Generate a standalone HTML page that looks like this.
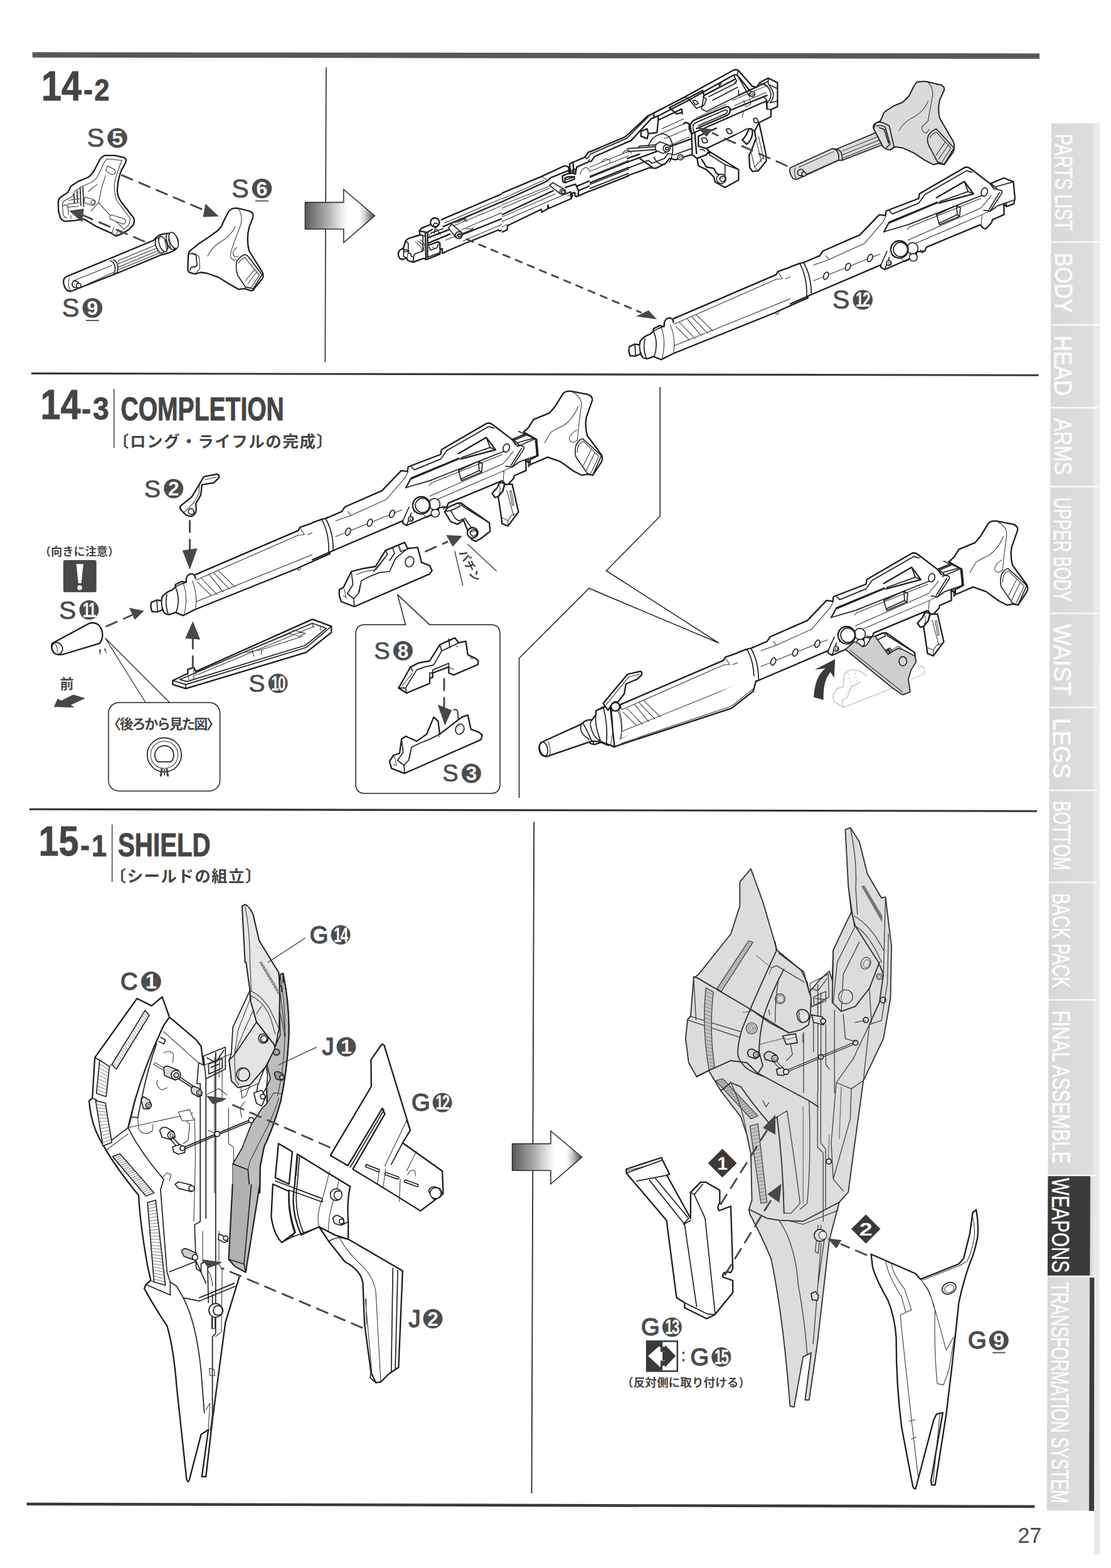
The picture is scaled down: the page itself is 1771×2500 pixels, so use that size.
<!DOCTYPE html>
<html><head><meta charset="utf-8"><title>page 27</title>
<style>html,body{margin:0;padding:0;background:#fff}svg{display:block}text{font-family:"Liberation Sans",sans-serif}</style>
</head><body>
<svg width="1771" height="2500" viewBox="0 0 1771 2500">
<rect width="1771" height="2500" fill="#fff"/>
<polygon points="51.7,83.2 1657,85.2 1657,93.8 51.7,91.8" fill="#585858"/>
<polygon points="50,593.85 1655.6,596.6500000000001 1655.6,599.75 50,596.9499999999999" fill="#3a3a3a"/>
<polygon points="47,1288.65 1653,1291.75 1653,1294.85 47,1291.75" fill="#333"/>
<polygon points="42.5,2395.8 1649.3,2399.8 1649.3,2404.2 42.5,2400.2" fill="#3a3a3a"/>
<line x1="519.9" y1="107.5" x2="518.3" y2="577.2" stroke="#333" stroke-width="1.7"/>
<line x1="851.2" y1="1310.6" x2="847.5" y2="2381" stroke="#333" stroke-width="1.9"/>
<text transform="translate(66,160.3) scale(0.86,1)" font-family="Liberation Sans, sans-serif" font-weight="bold" font-size="67" fill="#454545" text-anchor="start"  stroke="#454545" stroke-width="0.9">14</text>
<text transform="translate(133,160.3) scale(0.9,1)" font-family="Liberation Sans, sans-serif" font-weight="bold" font-size="50" fill="#454545" text-anchor="start"  stroke="#454545" stroke-width="0.9">-</text>
<text transform="translate(150.5,160.3) scale(0.9,1)" font-family="Liberation Sans, sans-serif" font-weight="bold" font-size="48" fill="#454545" text-anchor="start"  stroke="#454545" stroke-width="0.9">2</text>
<text transform="translate(64.5,668.3) scale(0.86,1)" font-family="Liberation Sans, sans-serif" font-weight="bold" font-size="67" fill="#454545" text-anchor="start"  stroke="#454545" stroke-width="0.9">14</text>
<text transform="translate(130,668.8) scale(0.9,1)" font-family="Liberation Sans, sans-serif" font-weight="bold" font-size="50" fill="#454545" text-anchor="start"  stroke="#454545" stroke-width="0.9">-</text>
<text transform="translate(148,668.8) scale(0.93,1)" font-family="Liberation Sans, sans-serif" font-weight="bold" font-size="50" fill="#454545" text-anchor="start"  stroke="#454545" stroke-width="0.9">3</text>
<line x1="181.8" y1="620" x2="181.8" y2="714" stroke="#444" stroke-width="1.5"/>
<text transform="translate(192.5,670.3) scale(0.766,1)" font-family="Liberation Sans, sans-serif" font-weight="bold" font-size="51" fill="#454545" text-anchor="start"  stroke="#454545" stroke-width="0.9">COMPLETION</text>
<text x="180" y="712.5" style="font-family:'Liberation Sans','Noto Sans CJK JP',sans-serif" font-weight="bold" font-size="25.5" fill="#454545" text-anchor="start" textLength="350" lengthAdjust="spacing">〔ロング・ライフルの完成〕</text>
<text transform="translate(61.5,1364) scale(0.86,1)" font-family="Liberation Sans, sans-serif" font-weight="bold" font-size="67" fill="#454545" text-anchor="start"  stroke="#454545" stroke-width="0.9">15</text>
<text transform="translate(128,1364.5) scale(0.9,1)" font-family="Liberation Sans, sans-serif" font-weight="bold" font-size="50" fill="#454545" text-anchor="start"  stroke="#454545" stroke-width="0.9">-</text>
<text transform="translate(146,1364.5) scale(0.9,1)" font-family="Liberation Sans, sans-serif" font-weight="bold" font-size="48" fill="#454545" text-anchor="start"  stroke="#454545" stroke-width="0.9">1</text>
<line x1="178.7" y1="1314.6" x2="178.7" y2="1406" stroke="#444" stroke-width="1.5"/>
<text transform="translate(188,1365) scale(0.79,1)" font-family="Liberation Sans, sans-serif" font-weight="bold" font-size="51" fill="#454545" text-anchor="start"  stroke="#454545" stroke-width="0.9">SHIELD</text>
<text x="175.5" y="1406" style="font-family:'Liberation Sans','Noto Sans CJK JP',sans-serif" font-weight="bold" font-size="25.5" fill="#454545" text-anchor="start" textLength="241" lengthAdjust="spacing">〔シールドの組立〕</text>
<text transform="translate(1622.5,2460) scale(0.97,1)" font-family="Liberation Sans, sans-serif" font-weight="normal" font-size="35" fill="#4a4a4a" text-anchor="start"  stroke="#4a4a4a" stroke-width="0">27</text>
<defs><linearGradient id="tabg" x1="0" x2="1" y1="0" y2="0"><stop offset="0" stop-color="#d8d8d8"/><stop offset="0.85" stop-color="#dedede"/><stop offset="0.88" stop-color="#e8e8e8"/><stop offset="1" stop-color="#ededed"/></linearGradient></defs>
<polygon points="1676,196.5 1754,196.5 1752.5,2037 1744,2037 1744,2408.5 1668.7,2408.5" fill="url(#tabg)"/>
<polygon points="1746,2037 1752.5,2037 1753.6,2478 1744,2478 1744,2408" fill="#e9e9e9"/>
<polygon points="1737.2,2037 1744.5,2037 1744,2409 1736.0,2409" fill="#3c3c3c"/>
<text transform="translate(1682.3,213.5) rotate(90)" font-family="Liberation Sans, sans-serif" font-size="39" fill="#fbfbfb" stroke="#fbfbfb" stroke-width="0.9" textLength="154" lengthAdjust="spacingAndGlyphs">PARTS LIST</text>
<line x1="1674.4" y1="386" x2="1753.4" y2="386" stroke="#fafafa" stroke-width="2.6"/>
<text transform="translate(1681.7,403) rotate(90)" font-family="Liberation Sans, sans-serif" font-size="39" fill="#fbfbfb" stroke="#fbfbfb" stroke-width="0.9" textLength="96" lengthAdjust="spacingAndGlyphs">BODY</text>
<line x1="1673.9" y1="518" x2="1752.9" y2="518" stroke="#fafafa" stroke-width="2.6"/>
<text transform="translate(1681.2,535) rotate(90)" font-family="Liberation Sans, sans-serif" font-size="39" fill="#fbfbfb" stroke="#fbfbfb" stroke-width="0.9" textLength="96" lengthAdjust="spacingAndGlyphs">HEAD</text>
<line x1="1673.5" y1="650" x2="1752.5" y2="650" stroke="#fafafa" stroke-width="2.6"/>
<text transform="translate(1680.8,667) rotate(90)" font-family="Liberation Sans, sans-serif" font-size="39" fill="#fbfbfb" stroke="#fbfbfb" stroke-width="0.9" textLength="90" lengthAdjust="spacingAndGlyphs">ARMS</text>
<line x1="1673.1" y1="776" x2="1752.1" y2="776" stroke="#fafafa" stroke-width="2.6"/>
<text transform="translate(1680.4,793) rotate(90)" font-family="Liberation Sans, sans-serif" font-size="39" fill="#fbfbfb" stroke="#fbfbfb" stroke-width="0.9" textLength="166" lengthAdjust="spacingAndGlyphs">UPPER BODY</text>
<line x1="1672.4" y1="978" x2="1751.4" y2="978" stroke="#fafafa" stroke-width="2.6"/>
<text transform="translate(1679.7,995) rotate(90)" font-family="Liberation Sans, sans-serif" font-size="39" fill="#fbfbfb" stroke="#fbfbfb" stroke-width="0.9" textLength="114" lengthAdjust="spacingAndGlyphs">WAIST</text>
<line x1="1671.9" y1="1128" x2="1750.9" y2="1128" stroke="#fafafa" stroke-width="2.6"/>
<text transform="translate(1679.2,1145) rotate(90)" font-family="Liberation Sans, sans-serif" font-size="39" fill="#fbfbfb" stroke="#fbfbfb" stroke-width="0.9" textLength="96" lengthAdjust="spacingAndGlyphs">LEGS</text>
<line x1="1671.5" y1="1260" x2="1750.5" y2="1260" stroke="#fafafa" stroke-width="2.6"/>
<text transform="translate(1678.8,1277) rotate(90)" font-family="Liberation Sans, sans-serif" font-size="39" fill="#fbfbfb" stroke="#fbfbfb" stroke-width="0.9" textLength="111" lengthAdjust="spacingAndGlyphs">BOTTOM</text>
<line x1="1671.0" y1="1407" x2="1750.0" y2="1407" stroke="#fafafa" stroke-width="2.6"/>
<text transform="translate(1678.3,1424) rotate(90)" font-family="Liberation Sans, sans-serif" font-size="39" fill="#fbfbfb" stroke="#fbfbfb" stroke-width="0.9" textLength="151" lengthAdjust="spacingAndGlyphs">BACK PACK</text>
<line x1="1670.4" y1="1594" x2="1749.4" y2="1594" stroke="#fafafa" stroke-width="2.6"/>
<text transform="translate(1677.7,1611) rotate(90)" font-family="Liberation Sans, sans-serif" font-size="39" fill="#fbfbfb" stroke="#fbfbfb" stroke-width="0.9" textLength="244" lengthAdjust="spacingAndGlyphs">FINAL ASSEMBLE</text>
<polygon points="1670.5,1874 1738.0,1874 1737.4,2035 1669.9,2035" fill="#3a3a3a"/>
<line x1="1669.5" y1="1874" x2="1748.5" y2="1874" stroke="#fafafa" stroke-width="2.6"/>
<text transform="translate(1676.8,1878) rotate(90)" font-family="Liberation Sans, sans-serif" font-size="39" fill="#ffffff" stroke="#ffffff" stroke-width="0.5" textLength="151" lengthAdjust="spacingAndGlyphs">WEAPONS</text>
<line x1="1668.9" y1="2035" x2="1747.9" y2="2035" stroke="#fafafa" stroke-width="2.6"/>
<text transform="translate(1676.2,2045) rotate(90)" font-family="Liberation Sans, sans-serif" font-size="39" fill="#fbfbfb" stroke="#fbfbfb" stroke-width="0.9" textLength="352" lengthAdjust="spacingAndGlyphs">TRANSFORMATION SYSTEM</text>
<!-- 05_defs.svg -->
<style>
.o{fill:none;stroke:#1c1c1c;stroke-width:2.3;stroke-linejoin:round;stroke-linecap:round;vector-effect:non-scaling-stroke}
.of{fill:#fff;stroke:#1c1c1c;stroke-width:2.3;stroke-linejoin:round;stroke-linecap:round;vector-effect:non-scaling-stroke}
.m{fill:none;stroke:#222;stroke-width:1.7;stroke-linejoin:round;stroke-linecap:round;vector-effect:non-scaling-stroke}
.mf{fill:#fff;stroke:#222;stroke-width:1.7;stroke-linejoin:round;stroke-linecap:round;vector-effect:non-scaling-stroke}
.t{fill:none;stroke:#333;stroke-width:1.05;stroke-linejoin:round;stroke-linecap:round;vector-effect:non-scaling-stroke}
.tf{fill:#fff;stroke:#333;stroke-width:1.05;stroke-linejoin:round;stroke-linecap:round;vector-effect:non-scaling-stroke}
.h{fill:none;stroke:#555;stroke-width:0.8;vector-effect:non-scaling-stroke}
.d{fill:none;stroke:#4a4a4a;stroke-width:2.9;stroke-dasharray:18 12;stroke-linecap:round;vector-effect:non-scaling-stroke}
.a{fill:#484848;stroke:none}
.g{fill:#cfcfcf}
.rs .o{stroke-width:1.8;stroke:#2e2e2e}.rs .m{stroke-width:1.25;stroke:#3a3a3a}.rs .t{stroke:#444;stroke-width:0.9}.rs .h{stroke:#666;stroke-width:0.7}
</style>

<!-- 08_bigarrow.svg -->
<defs><linearGradient id="ag" x1="0" x2="1" y1="0" y2="0"><stop offset="0" stop-color="#555"/><stop offset="0.06" stop-color="#6a6a6a"/><stop offset="0.3" stop-color="#a8a8a8"/><stop offset="0.5" stop-color="#e4e4e4"/><stop offset="0.6" stop-color="#fff"/><stop offset="0.78" stop-color="#fff"/><stop offset="0.86" stop-color="#ccc"/><stop offset="1" stop-color="#4a4a4a"/></linearGradient>
<path id="bigarrow" d="M0,-21.3 H61.3 V-41.8 L111,0 L61.3,42.9 V21.3 H0 Z" fill="url(#ag)" stroke="#333" stroke-width="1.6" stroke-linejoin="miter"/></defs>
<use href="#bigarrow" x="486.4" y="343.9"/>
<use href="#bigarrow" x="816.6" y="1844.9"/>

<!-- 10_f142_left.svg -->
<g transform="translate(60,100) scale(0.24631)">
<!-- S5 -->
<path class="of" d="M435,600 L500,600 L560,614 Q578,622 570,645 L540,700 Q518,760 515,830 Q518,870 540,900 L622,1005 Q630,1030 618,1052 L590,1080 L545,1108 L505,1122 L480,1105 L380,1060 L300,1012 L240,1022 L180,1027 Q152,1020 146,1000 L135,960 L133,905 Q135,880 152,868 L195,840 L215,800 L260,770 L330,740 Q355,720 370,690 L400,632 Q415,606 435,600 Z"/>
<path class="t" d="M450,622 L545,632 M450,622 Q430,640 415,680 L385,740 Q370,765 335,780 L285,802 L240,832 L225,865 L180,890 Q160,900 160,925 L165,980 Q170,1000 190,1005"/>
<path class="t" d="M545,632 Q520,690 500,760 Q490,830 510,890 L600,1010 L590,1050 L560,1075"/>
<path class="t" d="M440,730 Q420,790 410,830 Q400,880 395,905 Q440,960 520,1040 L560,1080"/>
<path class="t" d="M395,905 L345,960 M330,835 Q360,800 385,790"/>
<path class="tf" d="M452,668 L495,690 Q510,700 500,715 Q492,728 478,722 L440,700 Z"/>
<path class="tf" d="M305,870 L360,885 Q380,895 372,912 Q365,928 345,922 L300,905 Z"/><circle class="t" cx="358" cy="904" r="13"/>
<path class="tf" d="M478,985 L560,1010 Q575,1020 568,1035 Q560,1048 545,1042 L470,1012 Q462,995 478,985 Z"/>
<path class="m" d="M275,810 L280,925 M293,805 L298,930 M255,830 L258,900 M235,850 L238,910"/>
<path class="t" d="M200,890 L275,880 M195,915 L270,905 M190,935 L265,930 M160,930 Q175,915 195,925 L200,985 M215,990 L215,1010 M480,1105 L495,1060 M505,1122 L520,1085 L545,1108"/>
<!-- dashed arrow S5 -> S6 -->
<line class="d" x1="545" y1="728" x2="1085" y2="958"/>
<polygon class="a" points="1172,995 1086,912 1070,999"/>
<!-- dashed arrow S9 -> S5 -->
<line class="d" x1="690" y1="1157" x2="295" y2="988"/>
<polygon class="a" points="203,958 300,945 288,1032"/>
</g>
<g transform="translate(60,300) scale(0.24631)">
<!-- S9 rod -->
<path class="of" d="M188,572 L750,338 Q770,310 800,300 Q840,285 880,300 Q915,320 908,370 Q900,400 870,410 L830,425 L800,432 L520,548 L490,560 L215,668 Q190,668 178,645 Q160,610 172,585 Z"/>
<path class="t" d="M215,668 Q190,630 205,580 M230,600 L480,500 M250,655 L490,545 M520,470 L770,365 M520,490 L780,385 M520,530 L800,415 M515,515 L790,400"/>
<path class="m" d="M470,470 Q492,475 500,505 Q505,540 492,558 M490,465 Q512,470 518,500 Q522,530 512,550"/>
<ellipse class="mf" cx="790" cy="372" rx="24" ry="52" transform="rotate(-20 790 372)"/>
<ellipse class="mf" cx="812" cy="362" rx="24" ry="52" transform="rotate(-20 812 362)"/>
<ellipse class="mf" cx="862" cy="345" rx="26" ry="55" transform="rotate(-20 862 345)"/>
<ellipse class="mf" cx="880" cy="338" rx="26" ry="55" transform="rotate(-20 880 338)"/>
<path class="t" d="M835,335 L850,390 M845,330 L860,385 M822,340 L835,395"/>
<circle class="mf" cx="245" cy="622" r="22"/><circle class="mf" cx="265" cy="630" r="15"/>
<!-- S6 -->
<path class="of" d="M1255,135 Q1280,125 1310,133 L1375,150 Q1400,160 1393,190 L1368,255 Q1350,330 1368,405 L1455,545 Q1465,565 1455,585 L1402,650 Q1392,668 1375,662 L1340,650 L1300,655 L1240,620 L1170,577 L1100,552 L1055,545 L1020,556 L985,547 Q970,540 972,520 L975,432 Q978,408 995,398 L1040,362 L1100,322 L1165,275 Q1190,255 1200,222 L1228,165 Q1240,142 1255,135 Z"/>
<path class="t" d="M1300,135 Q1330,180 1315,235 Q1290,300 1265,370 Q1245,420 1250,450 Q1265,470 1285,465"/>
<path class="t" d="M1280,250 Q1240,320 1180,350 Q1130,380 1100,440"/>
<path class="t" d="M1290,385 Q1260,400 1265,430 Q1275,450 1300,440"/>
<path class="m" d="M985,425 Q1010,420 1025,435 L1032,500 Q1020,515 995,510 L985,530"/>
<path class="t" d="M1000,420 Q1035,425 1045,445 L1050,520 L1020,556"/>
<path class="m" d="M1288,475 Q1310,440 1340,430 Q1355,432 1365,445 L1452,560 L1395,650 L1345,640 L1295,565 Q1280,520 1288,475 Z"/>
<path class="t" d="M1300,485 Q1320,455 1340,448 L1435,565 L1385,640 M1420,540 L1360,620 M1405,525 L1345,600 M1340,650 L1345,640 M1395,650 L1402,650"/>
</g>

<!-- 19_f142_fills.svg -->
<g transform="matrix(0.24631,-0.004926,0,0.24631,620,291.7)"><path fill="#fff" stroke="none" d="M60,450 L100,425 L130,370 L200,345 L205,310 L265,285 L297,235 L345,242 L940,0 L1624,-280 L1624,-60 L1185,105 L765,300 L710,320 L500,398 L345,462 L240,500 L155,520 L75,500 Z"/></g>
<g transform="translate(860,180) scale(0.14778)"><path fill="#fff" stroke="none" d="M0,690 L268,578 L322,556 L368,532 L500,480 L540,422 L930,255 L1165,35 L1300,0 L1624,0 L1624,420 L1470,490 L1400,530 L1260,590 L1180,590 L420,890 L345,900 L100,985 L0,1040 Z"/></g>
<g transform="translate(1000,95) scale(0.19704)"><path fill="#fff" stroke="none" d="M164,458 L215,432 L470,300 L860,85 L898,88 L1010,215 L1045,225 L1072,185 L1140,150 L1215,187 L1215,380 L1162,405 L1162,462 L1065,510 L1120,760 L1125,820 L1060,900 L1012,905 L990,872 L985,775 L870,640 L670,740 L900,890 L900,975 L790,1035 L710,990 L700,950 L640,890 L575,860 L565,800 L520,770 L390,810 L340,800 L310,840 L230,880 L180,875 L0,940 L0,720 L194,478 Z"/></g>

<!-- 20_f142_frame_front.svg -->
<defs><clipPath id="clipF1"><rect x="0" y="0" width="800.5" height="700"/></clipPath></defs>
<g clip-path="url(#clipF1)"><g transform="matrix(0.24631,-0.004926,0,0.24631,620,291.7)">
<!-- white body fill -->
<path class="o" d="M330,262 L345,242 L940,0 M350,290 L1040,12 M470,345 L985,150 L990,172 L1030,155 L1030,130 L1185,72 L1185,102 L1200,96 L1200,62 L1215,57 L1225,95 L1500,-10"/>
<path class="o" d="M360,455 L500,398 L710,318 L716,326 L765,305 L765,285 L985,188 L1030,168 L1185,105 L1190,135 L1215,125 L1225,95"/>
<path class="t" d="M360,266 L960,22 M415,288 L1040,38 M480,262 L500,240 L440,265 M470,312 L1050,78 M505,335 L1000,137 M545,300 L520,325 M480,385 L990,178 M735,280 L740,300 L745,278"/>
</g></g>
<g transform="translate(620,330) scale(0.12315)">
<path fill="#fff" d="M120,620 L190,530 L250,410 L395,310 L420,275 L535,225 L690,170 L700,600 L500,675 L310,715 L170,680 Z"/>
<path class="o" d="M535,228 L420,275 L395,310 L400,360 L250,410 L215,440 L190,530 L165,545 Q122,560 120,620 Q135,682 175,680 L230,660 L240,690 L310,715 L450,665 L480,680 L500,675 L660,610 L665,545 L690,540 L690,600 L730,585"/>
<path class="o" d="M470,325 L478,668 M500,340 L500,655 M395,310 L490,330 L560,292 M500,400 L800,285 M505,470 L790,350 M500,500 L640,450 L660,470 L660,545"/>
<path class="m" d="M400,360 L470,378 M250,410 L420,360 L440,380 L440,570 L330,610 L320,650 L310,715 M190,530 L190,640 L230,660 M165,545 L250,560 L255,600 L280,600 L290,640 L320,650 M200,580 L260,570 M215,440 L250,470 L250,560 M520,520 L540,560 L620,530 L640,480 M500,650 L660,592 M600,255 L590,340 M615,290 L665,350 M540,340 L700,280"/>
<path class="t" d="M340,450 Q420,500 430,580 M370,440 Q450,480 455,560 M400,425 Q465,460 470,530 M520,350 L530,400 M560,520 L590,540 M240,600 L240,650"/>
<circle class="of" cx="595" cy="200" r="58"/><circle class="m" cx="605" cy="236" r="28"/>
<path class="mf" d="M770,270 L815,225 L940,330 L870,400 Z"/><circle class="mf" cx="905" cy="365" r="45"/><circle class="m" cx="912" cy="368" r="22" style="fill:#e0e0e0"/>
<path class="t" d="M850,210 L980,150 L1010,190 M730,430 L1050,300 M1000,280 L1120,290"/>
</g>
<g transform="translate(620,290) scale(0.24631)"><line class="d" style="stroke-dasharray:10.6 10.4" x1="505" y1="372" x2="1630" y2="845"/></g>

<!-- 21_f142_frame_mid.svg -->
<defs><clipPath id="clipF2"><rect x="939.5" y="0" width="400" height="700"/></clipPath></defs>
<g clip-path="url(#clipF2)"><g transform="translate(860,180) scale(0.14778)">
<path class="o" d="M0,690 L268,578 L322,598 L322,556 L368,532 L500,480 L540,422 L930,255 L1165,35 L1200,20"/>
<path class="o" d="M345,600 L345,645 M380,610 L410,590 L430,575 L560,520 L595,470 L990,297 L1205,62"/>
<path class="m" d="M372,560 L510,500 L548,445 L940,275 L1170,45 M322,598 L350,605 L380,590 L380,650"/>
<path class="o" d="M0,742 L250,640 L250,740 L280,760 L280,700 L330,680 L375,690 L375,650 L410,640"/>
<path class="o" d="M0,772 L105,735 M280,800 L960,525 M300,818 L390,782 L415,805 L960,589"/>
<path class="o" d="M0,1040 L90,1000 L100,985 L330,900 L345,870 L345,900 L385,905 L385,870 L410,860 L422,892 L960,679"/>
<path class="m" d="M0,900 L150,842 M0,930 L330,805 M0,1000 L330,872 M430,860 L960,652 M400,830 L960,606"/>
<path class="t" d="M0,715 L250,615 M30,700 L80,720 M410,640 L960,415 M440,670 L960,464 M440,615 Q450,590 490,590 Q530,595 540,635 M670,530 Q690,495 725,495 Q760,500 765,540 M895,440 Q915,400 950,400 Q985,405 990,440 M350,760 L960,511"/>
<path class="mf" d="M105,775 L150,752 L270,812 L240,870 Z"/><circle class="mf" cx="255" cy="848" r="30"/><circle class="t" cx="258" cy="850" r="12"/>
</g></g>

<!-- 21a_f142_frame_junction.svg -->
<defs><clipPath id="clipJ"><rect x="800" y="0" width="140" height="700"/></clipPath></defs>
<g clip-path="url(#clipJ)"><g transform="translate(800,240) scale(0.098522)">
<path fill="#fff" d="M-10,694 L640,420 L1010,248 L1095,215 L1340,110 L1440,0 L1500,75 L1500,620 L1235,735 L1127,777 L647,997 L107,1207 L-13,1327 L-60,1285 Z"/>
<path class="o" d="M-10,694 L640,420 L1010,248 L1080,262 L1090,380 M1095,215 L1100,250 L1110,370 M1095,215 L1150,190 L1340,110 L1400,30 L1440,0 M1150,190 L1160,300 L1160,375 L1190,380 L1210,270 L1250,250 L1400,185 L1450,100 L1500,75"/>
<path class="m" d="M1115,310 L1115,375 L1140,370 L1140,310 M1160,300 L1190,300 L1190,380 M1340,110 L1380,130 L1440,60"/>
<path class="o" d="M-10,835 L700,510 L740,490 L790,440 L1085,320"/>
<path class="t" d="M640,420 L720,470 L740,490 M-10,885 L760,580 M-10,940 L770,610 M-10,1080 L870,700 M-10,1155 L640,870 L1040,700 M-10,790 L680,480 M1265,390 Q1290,290 1360,275 Q1410,285 1415,330"/>
<path class="o" d="M980,410 L985,500 L1020,520 L1020,450 L1050,430 L1170,420 L1175,460 L1030,520 M980,410 L1085,365"/>
<path class="m" d="M1020,450 L1050,470 L1175,425"/>
<path class="o" d="M-10,1045 L830,650 M1030,598 L1190,545 L1210,580 L1500,455"/>
<path class="o" d="M1040,700 L1110,668 L1120,750 L1140,745 L1135,690 L1180,680 L1185,735 L1210,745 L1235,735 L1240,650 L1210,580 M1240,650 L1500,540 M1235,735 L1500,620"/>
<path class="o" d="M-60,1285 L-13,1327 L87,1282 L92,1222 L107,1207 L637,952 L647,997 L742,942 L747,882 L762,937 L1127,777 L1120,750"/>
<path class="t" d="M1060,735 L1110,715 M-10,1240 L90,1195"/>
<path class="mf" d="M770,565 L825,520 L1005,625 L945,700 Z"/><circle class="mf" cx="985" cy="668" r="46"/><circle class="m" cx="992" cy="672" r="25"/>
</g></g>

<!-- 22_f142_frame_rear.svg -->
<g transform="translate(1000,95) scale(0.19704)">
<!-- arch -->
<path class="o" d="M164,458 L215,432 L470,300 L860,85 Q880,76 898,88 L1010,215 L1045,225 L1072,185 L1140,150 L1215,187 L1215,380 L1162,405 L1162,462 L1065,510"/>
<path class="o" d="M194,478 L215,470 L250,455 L485,335 L860,125 L888,125 L990,250 M215,432 L215,470 M250,455 L250,490"/>
<path class="m" d="M470,300 L500,325 L520,318 M500,325 L560,395 L620,370 L640,320 L610,300 M860,125 L885,175 L870,185 M888,125 L990,300 M898,88 L888,125 M740,195 L745,215 L760,190"/>
<path class="m" d="M530,335 Q545,325 560,335 L575,355 Q560,370 545,360 Z M985,250 L1020,270 Q1035,290 1015,300 L975,280"/>
<circle class="mf" cx="1012" cy="280" r="20"/><circle class="t" cx="1014" cy="282" r="8"/>
<path class="m" d="M1140,150 L1140,200 L1215,235 M1072,185 L1090,200 L1140,175 M1130,215 Q1190,280 1135,350 M1150,215 Q1210,280 1155,350 L1215,335 M1100,300 L1130,330 L1130,400 L1162,405"/>
<!-- body long lines -->
<path class="o" d="M250,490 L440,400 L445,440 M110,580 L160,560 L170,600 L240,590 L250,490 M110,580 L110,620 L160,640 L170,600"/>
<path class="o" d="M340,390 L400,440 L440,430 M340,390 L610,250 L620,290 L870,160"/>
<path class="m" d="M620,290 L600,400 L640,420 L900,290 L900,250 M660,300 L880,190 M690,330 L890,225"/>
<path class="o" d="M520,600 L510,545 Q508,505 545,488 L790,385 Q832,372 832,410 Q830,442 800,455 L560,558"/>
<path class="m" d="M540,590 L530,550 Q530,520 560,508 L785,410 Q810,402 810,420 Q808,435 790,440 L575,535"/>
<path class="o" d="M455,520 Q470,500 500,520 L500,560 L520,600 L1125,335 L1130,400 M832,410 L1130,290 M900,290 L1100,195 L1130,215"/>
<path class="t" d="M280,560 L455,480 M270,600 L470,515 M300,640 L480,565 M330,700 L500,625 M560,470 L800,360 M600,520 L800,440 M850,330 L1120,215 M870,370 L1125,265 M930,470 L940,420 L980,400 M940,330 L960,380 L1000,360 L990,320"/>
<!-- lower box -->
<path class="o" d="M520,600 L525,770 L565,800 L640,770 L660,740 L640,720 L700,690 L870,610 M545,590 L560,760 M575,620 L575,700 L640,720 M575,620 L720,555"/>
<path class="m" d="M600,640 Q620,625 640,640 L650,665 Q630,680 610,670 Z M590,730 Q610,720 625,740"/>
<path class="mf" d="M800,565 Q815,555 830,562 L850,590 Q835,605 815,598 Z M1020,480 Q1035,470 1050,478 L1060,505 Q1045,515 1028,510 Z"/>
<!-- bottom outline -->
<path class="o" d="M0,940 L180,875 L230,880 L310,840 L340,800 L390,810 L450,790 L520,770"/>
<path class="o" d="M0,800 L100,765 M0,830 L520,640 M100,800 L200,870"/>
<path class="m" d="M0,880 L170,815 L200,840 L300,800 L330,760 L380,770 L520,720"/>
<circle class="mf" cx="430" cy="790" r="22"/><circle class="t" cx="433" cy="792" r="10"/>
<!-- hub -->
<path class="m" d="M170,700 Q200,610 290,600 Q350,610 365,690 Q375,770 340,830 M215,790 Q240,850 300,850"/>
<path class="mf" d="M225,690 L265,665 L330,690 L335,740 L290,760 L230,735 Z"/><circle class="mf" cx="318" cy="718" r="28"/><circle class="m" cx="321" cy="720" r="12"/>
<path class="m" d="M0,720 L225,705 M0,745 L230,728 M85,715 L100,700 L235,690"/>
<!-- lever -->
<path class="of" d="M575,860 L565,800 L640,770 L665,745 L900,890 L900,975 L790,1035 L710,990 L700,950 L640,890 Z"/>
<path class="o" d="M600,805 L640,870 L700,880 L720,920 L770,945"/>
<path class="m" d="M665,745 L665,770 L790,850 L900,890 M790,850 L790,940"/>
<circle class="mf" cx="760" cy="965" r="38"/><circle class="m" cx="770" cy="965" r="22"/><path class="t" d="M740,960 L775,955"/>
<!-- trigger & grip -->
<path class="of" d="M930,650 Q960,620 975,580 Q985,555 1005,560 Q1020,590 1005,630 Q990,670 965,685 Z"/>
<path class="of" d="M985,770 L1000,745 L1040,640 L1030,580 L1065,510 L1120,760 L1125,820 L1060,900 L1012,905 L990,872 Z"/>
<path class="t" d="M1040,640 L1085,830 M1060,620 L1105,810 M1000,745 L1030,870 L1060,900 M1030,870 L1100,790"/>
<path class="m" d="M870,610 L940,575 Q990,540 1030,580"/>
<!-- dashed arrow from rod -->
<line class="d" x1="1290" y1="860" x2="690" y2="595"/>
<polygon class="a" points="565,548 690,565 640,625"/>
</g>

<!-- 23_f142_stock.svg -->
<g transform="translate(1240,100) scale(0.19704)">
<!-- rod -->
<path d="M100,850 L440,695 L470,700 L820,555 L870,655 L520,790 L490,790 L150,945 L125,940 Q85,890 100,850 Z" fill="#dadada" class="m" style="fill:#dadada"/>
<path class="t" d="M150,945 Q125,900 140,850 M170,845 L450,720 M190,920 L480,790 M520,715 L830,590 M525,745 L845,615 M530,770 L860,640" />
<path class="m" d="M440,695 Q480,700 490,740 Q495,775 490,790 M470,700 Q510,705 518,745 Q522,775 520,790"/>
<circle cx="185" cy="888" r="26" class="m" style="fill:#e6e6e6"/><circle cx="210" cy="900" r="18" class="m" style="fill:#eee"/>
<!-- stock -->
<path class="m" style="fill:#dadada;stroke-width:2" d="M1120,160 Q1150,148 1200,152 L1320,180 Q1352,195 1345,222 L1310,300 Q1290,380 1310,450 L1420,640 Q1435,680 1420,720 L1345,825 L1300,815 L1260,825 L1190,790 L1100,730 L1010,690 L950,680 L910,705 L880,700 L850,680 L775,535 Q765,505 790,490 L830,470 L860,400 L935,350 L1010,320 L1060,270 L1100,190 Z"/>
<path class="t" d="M1215,160 Q1262,200 1250,280 Q1230,380 1215,470 L1165,520 Q1160,560 1200,570 L1225,540 M1215,310 Q1180,400 1080,450 Q1010,490 980,550"/>
<path class="m" d="M775,535 L790,490 Q820,470 860,490 L900,510 L940,680 L910,705 M800,512 Q830,500 868,520 L908,660 L880,685 M820,525 L860,540 L895,650"/>
<path class="m" d="M1212,605 Q1225,560 1280,535 L1425,690 L1345,822 L1290,800 L1232,690 Q1205,650 1212,605 Z"/>
<path class="t" d="M1230,610 Q1245,575 1280,560 L1400,690 L1330,800 M1380,665 L1300,780 M1355,640 L1280,750 M1290,800 L1300,815"/>
</g>

<!-- 24_f142_s12.svg -->
<defs><g id="s12">
<g transform="translate(980,380) scale(0.24631)">
<path fill="#fff" d="M95,700 L165,665 L250,585 L320,545 L380,520 L1045,235 L1190,168 L1230,150 L1250,385 L1040,480 L380,745 L300,785 L225,775 L100,760 Z"/>
<path class="o" d="M380,520 L1045,235 L1055,215 L1190,168 L1225,180 L1232,150"/>
<path class="o" d="M100,760 L135,762 L165,748 L180,770 Q200,785 225,775 L250,765 L300,785 L380,745 L1040,480 L1060,470 L1250,385"/>
<path class="o" d="M100,760 Q85,730 95,700 L130,685 L160,690 L165,665 Q185,635 230,620 L250,600 L250,585 L290,565 L320,570 L320,545 Q330,515 358,515 Q378,520 380,545"/>
<path class="m" d="M1225,180 Q1262,280 1250,385"/>
<path class="m" d="M130,685 L135,762 M160,690 L165,748 M165,665 Q150,710 180,770 M195,650 Q180,710 205,780 M250,600 Q285,680 255,765 M320,570 L290,580 L250,600"/>
<path class="t" d="M300,575 Q335,660 305,785 M360,560 Q395,650 380,745 M385,555 L1045,265 L1085,262 L1055,215 M1105,262 L1200,225 M385,695 L1250,345 M480,655 L395,570 M520,650 L420,545 M560,632 L470,522 M600,615 L500,510 M635,600 L530,497 M1040,480 L1045,492 L1060,486 L1060,470"/>
</g>
<g transform="translate(1260,250) scale(0.24631)">
<path fill="#fff" d="M0,715 L85,685 L190,640 L210,610 L450,505 L575,375 L620,350 L830,270 L835,240 L1123,72 L1166,77 L1293,174 L1381,137 L1443,162 L1453,269 L1446,304 L1383,374 L1263,467 L1223,442 L880,585 L760,665 L610,730 L585,700 L130,895 L0,955 Z"/>
<path class="o" d="M0,712 L60,690 L85,685 L190,640 L210,610 L450,505 L575,375 L615,380 L620,350 L830,270 L835,240 L1123,72 Q1143,60 1166,77 L1293,174 L1298,172 L1381,137 L1443,162 L1453,269 L1446,304 L1398,322 L1381,306 L1383,374 L1308,407 L1301,427 L1263,467 L1243,459 L1233,442 L1223,442 L880,585 L870,610 L820,615 L810,640 L760,665 L610,730 L585,715 L585,700 L135,892 L0,952"/>
<path class="m" d="M85,685 Q135,770 135,892"/>
<path class="m" d="M60,690 Q110,780 105,905 M625,612 L585,700 M610,730 L640,650"/>
<path class="o" d="M945,265 L1125,160 L1185,240 L960,300 M605,485 L640,422 L950,295" />
<path d="M640,422 L950,292 L955,300 L642,432 Z" fill="#222"/>
<path class="m" d="M1125,160 L1150,225 L1185,240 M1150,225 L965,290 M605,485 L760,440 L1240,250 M640,350 L660,370 L830,300 L870,245 L1140,90 L1175,100"/>
<path class="t" d="M230,640 L250,665 L480,560 L600,420 L620,380 M150,700 L250,665 M755,470 L770,455 L1230,270 M760,540 L1235,330 L1300,250 M810,560 L1240,375 L1330,330 M1240,375 L1235,435"/>
<path class="m" d="M945,375 L1075,315 L1100,330 L1095,385 L965,440 Z M1075,315 L1080,375 L1095,385 M960,430 L1080,375"/>
<ellipse class="m" cx="1255" cy="228" rx="20" ry="28" transform="rotate(20 1255 228)"/>
<path class="o" d="M1293,174 L1318,207"/><path class="m" d="M1318,207 L1363,217 Q1373,225 1368,236 L1291,354 L1283,349 L1251,347 M1353,232 L1286,340 M1291,354 L1338,318 L1381,304 M1381,304 L1398,299 L1398,322 M1298,172 L1325,195 L1443,162 M1325,195 L1340,212 M1338,318 L1446,280"/>
<circle class="mf" cx="795" cy="650" r="26"/><circle class="mf" cx="790" cy="592" r="36"/>
<circle class="of" cx="705" cy="600" r="56"/><circle class="m" cx="712" cy="600" r="46"/>
<circle class="mf" cx="637" cy="688" r="16"/><circle class="t" cx="640" cy="690" r="8"/>
<path class="t" d="M665,560 Q640,600 660,645 M840,600 L850,625 L870,610 M720,660 L740,680 L770,665"/>
<ellipse class="m" cx="230" cy="770" rx="15" ry="25" transform="rotate(22 230 770)"/>
<ellipse class="m" cx="372" cy="712" rx="15" ry="25" transform="rotate(22 372 712)"/>
<ellipse class="m" cx="515" cy="655" rx="15" ry="25" transform="rotate(22 515 655)"/>
<path class="t" d="M150,802 L212,778 M248,762 L355,720 M390,705 L498,662 M532,648 L580,630"/>
</g>
</g></defs>
<use href="#s12"/>
<g transform="translate(980,380) scale(0.24631)"><polygon class="a" points="272,524 218,466 138,505"/></g>

<!-- 31_f143_rifles.svg -->
<defs><g id="rifleadd">
<g transform="translate(740,600) scale(0.16010)">
<!-- stock -->
<path class="of" d="M590,555 L640,510 L690,430 L850,365 L905,300 L985,170 Q1010,145 1060,148 L1230,180 Q1282,200 1275,240 L1215,410 Q1200,500 1225,590 L1365,780 Q1385,820 1365,855 L1280,985 L1230,975 L1170,985 L1090,945 L960,850 L830,805 L740,845 L655,880 L655,830 L735,790 L720,628 Z"/>
<path class="t" d="M1060,148 Q1180,200 1165,300 Q1140,480 1125,640 M1135,300 Q1080,430 990,490 Q900,530 860,560 Q830,610 800,660 M1120,535 Q1060,570 1045,620 Q1050,655 1085,660 L1120,640"/>
<path class="m" d="M1105,760 Q1100,650 1180,620 L1365,790 L1280,985 L1225,965 L1130,830 Q1105,800 1105,760 Z"/>
<path class="t" d="M1125,760 Q1125,670 1185,645 L1340,795 L1262,965 M1300,760 L1215,935 M1265,730 L1185,890"/>
<!-- block lines -->
<path class="m" d="M540,548 L720,628 M490,640 L610,590 M530,700 L700,625 M655,830 L655,880 M640,850 L640,900 L655,880"/>
</g>
<g transform="translate(660,740) scale(0.12315)">
<!-- lever -->
<path class="of" d="M610,505 L975,760 L985,870 L870,960 L800,1000 L745,975 L690,850 L640,725 L565,778 L475,745 L395,615 L440,560 L560,505 Z"/>
<path class="m" d="M440,560 L560,505 Q600,510 595,545 L480,600 M480,610 L530,700 L580,735 L655,700 L740,820 M395,615 L480,600 M610,505 L620,540 L975,760"/>
<circle class="of" cx="758" cy="890" r="68"/><circle class="m" cx="770" cy="890" r="42"/><path class="t" d="M720,880 L790,865"/>
<!-- trigger + grip -->
<path class="of" d="M1010,380 L1080,300 L1100,250 Q1140,228 1172,260 L1150,350 L1090,420 L1050,432 Z"/>
<path class="of" d="M1172,265 L1270,258 L1352,620 L1215,802 L1140,770 L1130,690 L1090,420 L1150,350 Z"/>
<path class="t" d="M1200,340 L1290,670 M1240,350 L1260,345 L1292,530 L1272,535 Z M1130,690 L1215,730 L1262,660 L1340,640 M1215,730 L1215,800 M1100,270 Q1130,320 1100,400"/>
</g></g></defs>
<use href="#s12" x="-762" y="408"/><use href="#rifleadd"/>
<use href="#s12" x="-84" y="615"/><use href="#rifleadd" x="678" y="207"/>

<!-- 32_f143_left.svg -->
<g transform="translate(40,720) scale(0.32020)">
<!-- S2 lever -->
<path class="of" d="M890,125 L955,112 Q968,115 965,130 L940,155 L880,165 L875,215 L850,260 L852,290 Q850,315 827,322 Q805,322 790,305 L772,285 L772,272 L830,225 L860,175 Z"/>
<path class="t" d="M895,140 L950,128 M790,305 L840,255 L865,210 L868,165"/><circle class="m" cx="827" cy="298" r="14"/>
<line class="d" x1="820" y1="345" x2="820" y2="495"/><polygon class="a" points="820,588 783,492 858,482"/>
<!-- exclamation -->
<rect x="190" y="540" width="165" height="160" rx="10" fill="#484848"/>
<path d="M255,560 L290,560 L280,655 L265,655 Z" fill="#fff"/><circle cx="272" cy="678" r="12" fill="#fff"/>
<!-- S11 cone -->
<path class="of" d="M135,955 L320,855 Q345,848 365,862 Q388,885 385,920 Q382,945 370,955 L195,1008 Q160,1018 142,1000 Q125,975 135,955 Z"/>
<ellipse class="m" cx="160" cy="980" rx="26" ry="30" transform="rotate(-20 160 980)"/><path class="t" d="M150,960 Q165,975 160,1000"/>
<path class="a" d="M368,985 L378,985 L374,1018 Z M392,983 L400,980 L408,1010 Z"/>
<line class="d" x1="405" y1="870" x2="530" y2="815"/><polygon class="a" points="592,793 518,778 546,838"/>
<!-- callout -->
<path class="t" style="stroke-width:1.3" d="M400,930 L600,1250 M400,930 L720,1250"/>
<rect x="415" y="1250" width="555" height="440" rx="52" class="m" style="stroke-width:1.5"/>
<circle class="m" cx="693" cy="1510" r="85"/><circle class="t" cx="693" cy="1510" r="68"/>
<path class="m" d="M660,1545 A47,47 0 1 1 726,1545 Z"/>
<path class="a" d="M676,1578 L686,1578 L680,1618 L670,1618 Z M700,1578 L710,1578 L716,1618 L706,1618 Z M690,1582 L696,1582 L696,1612 L690,1612 Z"/>
<!-- front arrow -->
<polygon class="a" points="143,1272 162,1230 180,1240 240,1210 300,1228 228,1262 246,1274"/>
<!-- S10 tray -->
<path class="of" d="M735,1140 L810,1105 L810,1085 L840,1075 L850,1095 L1430,835 L1525,870 L1525,900 L1400,1000 L800,1180 L735,1160 Z"/>
<path class="m" d="M735,1140 L800,1160 L1400,975 L1525,870 M800,1160 L800,1180 M770,1135 L1430,855 L1500,880 L1395,965 L805,1145 Z"/>
<path class="t" d="M850,1095 L850,1115 M840,1075 L840,1130 M810,1105 L815,1135 M860,1110 L1440,870 M1100,1000 L1180,985 L1175,1010 M1130,990 L1140,1020 M1310,905 L1340,890 L1395,905 L1365,920 Z M1150,975 L1320,905 M1180,985 L1380,920 M1430,855 L1435,875 M1470,868 L1470,890"/>
<line class="d" x1="835" y1="1075" x2="835" y2="930"/><polygon class="a" points="835,845 797,930 872,936"/>
</g>
<text x="63" y="886" style="font-family:'Liberation Sans','Noto Sans CJK JP',sans-serif" font-weight="bold" font-size="18" fill="#454545" text-anchor="start" textLength="127" lengthAdjust="spacing">（向きに注意）</text>
<text x="95.5" y="1098" style="font-family:'Liberation Sans','Noto Sans CJK JP',sans-serif" font-weight="bold" font-size="22" fill="#454545" text-anchor="start">前</text>
<text x="171" y="1162" style="font-family:'Liberation Sans','Noto Sans CJK JP',sans-serif" font-weight="bold" font-size="22" fill="#454545" text-anchor="start" textLength="180" lengthAdjust="spacing">〈後ろから見た図〉</text>

<!-- 33_f143_right_add.svg -->
<g transform="translate(840,1000) scale(0.25862)">
<!-- tray attached -->
<path fill="#fff" d="M470,700 L535,738 L1260,500 L1395,395 L1412,330 L1400,300 L575,690 Z"/>
<path class="o" d="M470,700 L535,738 L1260,500 L1395,395 L1412,330"/>
<path class="t" d="M580,716 L1262,486 L1398,378"/>
<!-- cone + collar -->
<path class="of" d="M75,750 Q72,715 110,700 L335,598 Q365,566 400,572 L425,540 L425,515 L470,492 L512,482 L540,738 L455,705 L400,702 L120,798 Q80,795 75,750 Z"/>
<ellipse class="m" cx="103" cy="750" rx="24" ry="44" transform="rotate(-15 103 750)"/><path class="t" d="M130,705 Q150,750 140,790"/>
<path class="m" d="M335,598 Q315,650 385,692 M345,590 Q372,640 400,702 M400,572 Q385,590 395,620 Q410,680 450,700 M425,540 Q415,600 455,705 M470,492 Q500,600 490,720 M425,515 L512,482"/>
<path class="t" d="M512,482 Q545,600 515,728 M565,500 Q600,600 575,690"/>
<!-- S2 lever attached -->
<circle class="of" cx="545" cy="490" r="27"/>
<path class="of" d="M470,470 L620,290 L700,272 Q714,278 705,296 L680,320 L610,350 L600,410 L560,462 Q540,455 522,475 L500,512 Z"/>
<path class="t" d="M488,478 L628,306 L695,290"/>
</g>
<g transform="translate(1160,800) scale(0.30788)">
<!-- ghost bracket -->
<path fill="none" stroke="#bdbdbd" stroke-width="1.3" vector-effect="non-scaling-stroke" d="M545,1000 L565,968 L598,958 L605,890 L640,868 L690,880 L722,902 M545,1000 L548,1035 L600,1065 L905,945 M985,850 Q1020,850 1020,875 L1015,892 L950,920 M600,1065 L592,1030 L620,1010 L640,960 L690,930"/>
<path fill="none" stroke="#bdbdbd" stroke-width="1" stroke-dasharray="3 3" vector-effect="non-scaling-stroke" d="M625,890 L640,960 L610,1000 M660,885 L672,950 L640,990"/>
<!-- gray bracket -->
<path d="M610,765 L655,725 L680,735 Q700,762 720,740 L745,700 L762,695 L830,790 L880,760 L905,765 L970,800 L975,830 L950,870 L935,920 L945,985 L905,1000 L850,962 Z" fill="#cecece" class="m"  style="fill:#cecece"/>
<path class="t" d="M635,770 L905,985 M830,790 L835,775 L885,748 L905,765 M840,780 L890,755"/>
<ellipse class="m" cx="907" cy="826" rx="20" ry="24" style="fill:#d8d8d8"/>
<!-- curved arrow -->
<path d="M445,1012 Q452,900 508,862 L450,870 L556,815 L551,912 L532,882 Q492,930 496,1026 Z" fill="#3a3a3a"/>
</g>
<!-- divider polyline -->
<polyline points="1052.2,617 1052.2,823 966.4,910 1146,1025.3 939,938 827.5,1049.5 827.5,1272" fill="none" stroke="#222" stroke-width="1.5"/>

<!-- 34_f143_bracket.svg -->
<g transform="translate(480,820) scale(0.32020)">
<!-- assembled bracket -->
<path class="of" d="M190,375 L210,365 L250,285 L310,270 L370,260 L420,180 L515,140 L530,170 L580,165 L600,240 L640,255 L652,280 L640,297 L265,460 L200,435 L190,405 Z"/>
<path class="m" d="M265,460 L262,420 L285,395 L300,330 L340,310 L390,290 L440,285 L470,220 L530,170 M230,395 L262,420 M250,285 L258,350 L230,395 M420,180 L430,200 L360,285 M455,165 L465,195 L440,230 M485,152 L495,185 L545,168"/>
<path class="t" d="M215,372 L225,420 M275,300 L315,285 L375,275 L430,200 M300,330 L290,390 M210,405 L222,410"/>
<ellipse class="m" cx="540" cy="236" rx="21" ry="26" transform="rotate(20 540 236)"/>
<line class="d" x1="620" y1="185" x2="728" y2="137"/><polygon class="a" points="802,108 722,103 755,162"/>
<path class="t" style="stroke-width:1.3" d="M765,185 L805,355 M830,150 L972,282"/>
<!-- callout box -->
<path class="m" style="stroke-width:1.5" d="M520,550 L318,550 Q272,550 272,596 L272,1344 Q272,1390 318,1390 L944,1390 Q990,1390 990,1344 L990,596 Q990,550 944,550 L640,550 L480,400 Z"/>
<!-- S8 -->
<path class="of" d="M485,865 L545,760 L585,740 L640,730 L690,650 L765,615 L785,640 L820,632 L830,700 L865,715 L882,730 L880,748 L760,800 L735,790 L735,760 L655,790 L655,812 L640,817 L640,842 L525,890 Z"/>
<path class="m" d="M525,890 L520,865 L575,775 L615,760 L660,750 L700,680 L785,640 M520,865 L485,865 M545,760 L555,780 M690,650 L700,680 M735,620 L740,665 M640,817 L640,790 L655,790 M735,760 L735,742 L655,775 L655,790"/>
<path class="t" d="M500,858 L555,790 M735,760 L760,772 M830,700 L845,705 L845,718 L865,715 M770,655 L780,660"/>
<line class="d" x1="712" y1="820" x2="712" y2="965"/><polygon class="a" points="716,1052 680,948 750,975"/>
<!-- S3 -->
<path class="of" d="M440,1230 L460,1200 L490,1190 L500,1120 L520,1105 L575,1130 L625,1095 L660,1010 L682,1030 L690,1095 L800,1010 L830,1000 L845,1070 L885,1085 L902,1100 L895,1122 L515,1290 L450,1265 Z"/>
<path class="m" d="M515,1290 L512,1250 L535,1225 L550,1160 L590,1140 L640,1120 L690,1095 M480,1225 L512,1250 M500,1120 L508,1185 L480,1225 M760,975 Q775,965 780,985 L782,1020"/>
<path class="t" d="M465,1205 L475,1250 M460,1245 L470,1250 M682,1095 L688,1110 M550,1160 L540,1215"/>
<ellipse class="m" cx="790" cy="1070" rx="21" ry="26" transform="rotate(20 790 1070)"/>
</g>
<text transform="translate(731,881) rotate(63)" x="0" y="0" style="font-family:'Liberation Sans','Noto Sans CJK JP',sans-serif" font-weight="bold" font-size="18" fill="#454545" text-anchor="start">パチン</text>

<!-- 40_f151_left_wing.svg -->
<g transform="translate(80,1420) scale(0.25862)">
<!-- silhouette -->
<path fill="#fff" d="M535,665 L625,710 L690,655 L735,780 L900,920 L930,960 L945,1075 L1100,1075 L1200,1900 L1165,2383 L1080,2663 L1000,3263 L960,3613 L935,3613 L975,3323 L930,3353 L860,3623 L850,3658 L840,3623 L780,3063 L760,2813 L720,2683 L640,2563 L580,2453 L590,2428 L620,2403 L600,2313 L560,2063 L545,1878 L340,1663 L330,1575 Q250,1450 240,1295 L260,1280 L275,1030 Z"/>
<!-- outer contour -->
<path class="o" d="M945,1075 L930,960 L900,920 L735,780 L690,655 L625,710 L535,665 L275,1030 L260,1280 L240,1295 Q250,1450 330,1575 Q400,1700 545,1878 Q555,2060 600,2313 L620,2403 L590,2428 L580,2453 Q640,2563 720,2683 Q760,2813 780,3063 L840,3623 Q850,3665 860,3623 L930,3353 L975,3323 L935,3613 L960,3613 L1000,3263 L1080,2663 L1165,2383"/>
<!-- wing inner edge -->
<path class="o" d="M735,780 L700,830 Q590,1060 520,1300 L480,1462"/>
<path class="m" d="M480,1462 L330,1575 M480,1462 Q560,1620 700,1780 L680,1843 L720,2353 L740,2413 L740,2493 L590,2428 M275,1030 L305,1045 M260,1280 L285,1290"/>
<path class="t" d="M330,1575 L345,1600 L480,1500 M620,2403 L640,2413 M365,1085 L380,1072 M640,960 Q540,1200 500,1400 L490,1440 M480,1462 L880,1372 M700,870 L915,1062"/>
<path class="m" style="fill:#fff" d="M585.0,738.0 L380.0,1072.0 L408.0,1100.0 L610.0,770.0 Z"/><path class="h" d="M575.7,753.2 L600.8,785.0 M566.4,768.4 L591.6,800.0 M557.0,783.5 L582.5,815.0 M547.7,798.7 L573.3,830.0 M538.4,813.9 L564.1,845.0 M529.1,829.1 L554.9,860.0 M519.8,844.3 L545.7,875.0 M510.5,859.5 L536.5,890.0 M501.1,874.6 L527.4,905.0 M491.8,889.8 L518.2,920.0 M482.5,905.0 L509.0,935.0 M473.2,920.2 L499.8,950.0 M463.9,935.4 L490.6,965.0 M454.5,950.5 L481.5,980.0 M445.2,965.7 L472.3,995.0 M435.9,980.9 L463.1,1010.0 M426.6,996.1 L453.9,1025.0 M417.3,1011.3 L444.7,1040.0 M408.0,1026.5 L435.5,1055.0 M398.6,1041.6 L426.4,1070.0 M389.3,1056.8 L417.2,1085.0 "/>
<path class="m" style="fill:#fff" d="M305.0,1045.0 L285.0,1250.0 L345.0,1270.0 L365.0,1085.0 Z"/><path class="h" d="M302.8,1067.8 L362.8,1105.6 M300.6,1090.6 L360.6,1126.1 M298.3,1113.3 L358.3,1146.7 M296.1,1136.1 L356.1,1167.2 M293.9,1158.9 L353.9,1187.8 M291.7,1181.7 L351.7,1208.3 M289.4,1204.4 L349.4,1228.9 M287.2,1227.2 L347.2,1249.4 "/>
<path class="m" style="fill:#fff" d="M280.0,1295.0 L325.0,1575.0 L380.0,1552.0 L340.0,1310.0 Z"/><path class="h" d="M283.5,1316.5 L343.1,1328.6 M286.9,1338.1 L346.2,1347.2 M290.4,1359.6 L349.2,1365.8 M293.8,1381.2 L352.3,1384.5 M297.3,1402.7 L355.4,1403.1 M300.8,1424.2 L358.5,1421.7 M304.2,1445.8 L361.5,1440.3 M307.7,1467.3 L364.6,1458.9 M311.2,1488.8 L367.7,1477.5 M314.6,1510.4 L370.8,1496.2 M318.1,1531.9 L373.8,1514.8 M321.5,1553.5 L376.9,1533.4 "/>
<path class="m" style="fill:#fff" d="M385.0,1640.0 L590.0,1883.0 L640.0,1863.0 L430.0,1622.0 Z"/><path class="h" d="M394.3,1651.0 L439.5,1633.0 M403.6,1662.1 L449.1,1643.9 M413.0,1673.1 L458.6,1654.9 M422.3,1684.2 L468.2,1665.8 M431.6,1695.2 L477.7,1676.8 M440.9,1706.3 L487.3,1687.7 M450.2,1717.3 L496.8,1698.7 M459.5,1728.4 L506.4,1709.6 M468.9,1739.4 L515.9,1720.6 M478.2,1750.5 L525.5,1731.5 M487.5,1761.5 L535.0,1742.5 M496.8,1772.5 L544.5,1753.5 M506.1,1783.6 L554.1,1764.4 M515.5,1794.6 L563.6,1775.4 M524.8,1805.7 L573.2,1786.3 M534.1,1816.7 L582.7,1797.3 M543.4,1827.8 L592.3,1808.2 M552.7,1838.8 L601.8,1819.2 M562.0,1849.9 L611.4,1830.1 M571.4,1860.9 L620.9,1841.1 M580.7,1872.0 L630.5,1852.0 "/>
<path class="m" style="fill:#fff" d="M600.0,1923.0 L640.0,2413.0 L710.0,2433.0 L650.0,1908.0 Z"/><path class="h" d="M601.5,1941.8 L652.3,1928.2 M603.1,1960.7 L654.6,1948.4 M604.6,1979.5 L656.9,1968.6 M606.2,1998.4 L659.2,1988.8 M607.7,2017.2 L661.5,2009.0 M609.2,2036.1 L663.8,2029.2 M610.8,2054.9 L666.2,2049.3 M612.3,2073.8 L668.5,2069.5 M613.8,2092.6 L670.8,2089.7 M615.4,2111.5 L673.1,2109.9 M616.9,2130.3 L675.4,2130.1 M618.5,2149.2 L677.7,2150.3 M620.0,2168.0 L680.0,2170.5 M621.5,2186.8 L682.3,2190.7 M623.1,2205.7 L684.6,2210.9 M624.6,2224.5 L686.9,2231.1 M626.2,2243.4 L689.2,2251.3 M627.7,2262.2 L691.5,2271.5 M629.2,2281.1 L693.8,2291.7 M630.8,2299.9 L696.2,2311.8 M632.3,2318.8 L698.5,2332.0 M633.8,2337.6 L700.8,2352.2 M635.4,2356.5 L703.1,2372.4 M636.9,2375.3 L705.4,2392.6 M638.5,2394.2 L707.7,2412.8 "/>
<!-- inner panel -->
<path class="m" d="M945,1075 L915,1062 L905,1190 L925,1190 M680,905 L710,920 L700,945 L670,930 M655,945 Q600,1100 560,1300 L540,1400 L500,1395"/>
<path class="t" d="M700,1000 Q740,980 760,1010 L755,1060 M660,1170 Q650,1210 690,1230 L720,1215 M540,1400 L545,1470 Q580,1520 630,1480 L635,1440"/>
<!-- spine -->
<path class="m" d="M925,1190 L925,2040 L890,2060 L900,2330 L930,2350 L930,2300 L970,2280 L975,2540 M960,1160 L960,2020 M1020,1000 L1020,2730 L1000,2750 L1000,3260"/>
<path class="t" d="M890,1400 L895,1640 L890,1860 L885,2040 M1060,1110 L1060,1300 M1100,1340 L1100,1560 L1130,1580 L1135,1860 M975,1480 L1030,1500 M970,2340 Q1000,2380 1000,2440 M940,2100 L940,2300 M1040,2100 L1040,2300 L1060,2340 L1055,2720 L1020,2750 M960,1260 L1040,1220 L1090,1260 M1200,1300 L1170,1340 L1180,1400 M1170,1240 L1300,1180"/>
<!-- frame box -->
<path class="m" d="M945,1020 L1080,965 L1080,1100 L960,1160 Z M975,1070 L1060,1035 L1060,1095 L978,1130 Z M965,1030 L1020,1060 L1070,985 M1020,1000 L1020,1060 M990,1090 L1045,1068"/>
<!-- pegs -->
<path class="tf" d="M645,1060 L715,1100 L705,1112 L640,1072 Z"/>
<path class="m" style="fill:#d8d8d8" d="M700,1100 Q700,1080 725,1082 L790,1108 Q805,1130 795,1158 L770,1168 L705,1140 Z"/><circle class="mf" cx="775" cy="1136" r="29"/><circle class="m" cx="778" cy="1138" r="15" style="fill:#ddd"/>
<path class="m" d="M792,1160 L885,1222 M800,1150 L892,1212"/>
<path class="m" style="fill:#d8d8d8" d="M868,1225 L880,1205 L925,1222 L935,1262 L915,1272 L875,1250 Z"/><circle class="mf" cx="920" cy="1246" r="17"/><circle class="t" cx="921" cy="1247" r="8"/>
<path class="m" style="fill:#e0e0e0" d="M560,1290 L575,1270 L610,1290 L625,1320 L610,1345 L575,1345 Z"/><circle class="mf" cx="606" cy="1324" r="17"/><circle class="t" cx="607" cy="1325" r="8"/>
<path class="tf" d="M790,1365 L860,1350 L885,1415 L815,1420 Z"/>
<path class="mf" d="M675,1480 Q685,1455 715,1460 L760,1485 L770,1520 L745,1535 L690,1520 Z"/><circle class="mf" cx="746" cy="1507" r="22"/><circle class="t" cx="748" cy="1509" r="10"/>
<path class="m" d="M755,1520 L805,1575 M740,1530 L790,1590"/><path class="mf" d="M755,1580 L800,1565 L832,1585 L830,1615 L790,1625 L760,1610 Z"/><circle class="mf" cx="815" cy="1588" r="15"/>
<path class="m" d="M830,1580 L1030,1497 L1240,1410 M830,1592 L1030,1507 L1240,1422"/><circle class="mf" cx="1030" cy="1500" r="16"/><circle class="mf" cx="1240" cy="1415" r="16"/>
<path class="mf" d="M770,1810 L790,1795 L870,1815 L885,1840 L870,1856 L790,1835 Z"/><circle class="mf" cx="872" cy="1836" r="17"/>
<path class="t" d="M690,1770 L720,1740 L745,1750 L735,1790 M820,1560 L850,1540 L860,1440 L840,1420"/>
<!-- lower pegs -->
<path class="m" style="fill:#ccc" d="M810,2225 Q815,2205 840,2208 L900,2235 L910,2265 L890,2278 L825,2255 Z"/><circle class="mf" cx="893" cy="2260" r="17"/>
<path class="mf" d="M1040,2118 L1085,2135 L1095,2160 L1075,2170 L1035,2150 Z"/><circle class="mf" cx="1082" cy="2142" r="14"/>
<path class="m" d="M735,2350 L900,2285 L960,2420 M740,2413 L780,2440 L820,2510 L920,2530 L1140,2440 M820,2510 Q900,2660 930,2960 L950,3220 M920,2510 L1135,2420 M1000,2490 L1000,2700"/>
<circle class="mf" cx="1020" cy="2588" r="42"/><circle class="m" cx="1035" cy="2588" r="30"/>
<path class="t" d="M995,2630 L995,2700 L1015,2700 L1015,2630 M980,2945 L1010,2950 L1015,2990 L985,2990 Z M960,3200 L985,3160 L975,3320 M1045,2940 L985,3330"/>
</g>

<!-- 41_f151_g14_j1.svg -->
<g transform="translate(300,1420) scale(0.20942)">
<!-- J1 gray strip -->
<path style="fill:#bdbdbd" class="m" d="M700,640 L722,630 Q778,900 764,1150 Q750,1380 705,1600 Q650,1800 578,1950 L548,2100 L545,2300 L340,2300 L340,2080 L410,1960 L480,1780 L560,1660 L600,1620 L595,1500 L625,1430 L600,1330 L650,1210 L700,1100 L690,780 Z"/>
<path class="m" d="M722,630 Q778,900 764,1150 Q750,1380 705,1600 Q650,1800 578,1950 L548,2100 L545,2300" style="stroke-width:2.2"/>
<path class="t" d="M700,640 Q745,900 735,1150 Q720,1400 680,1560 M690,900 Q720,1000 735,1120 M700,780 L740,1100 M340,2080 L455,2125 L470,2300 M455,2125 L470,2060 L560,1880 Q640,1740 690,1580 M600,1620 L650,1540 L720,1545 M600,1500 L605,1620"/>
<path d="M340,2080 L455,2125 L470,2300 L340,2300 Z" fill="#b0b0b0"/>
<path class="m" d="M340,2080 L455,2125 L470,2300"/>
<path class="m" style="fill:#999" d="M655,1395 Q660,1375 685,1378 L720,1395 L728,1425 L715,1445 L670,1435 Z"/><circle class="m" cx="712" cy="1420" r="16" style="fill:#ccc"/>
<circle class="m" cx="672" cy="1230" r="24" style="fill:#d4d4d4"/><circle class="t" cx="672" cy="1232" r="12" style="fill:#fff"/>
<!-- inner white pieces between -->
<path class="mf" d="M590,1330 Q615,1400 595,1500 L560,1560 L520,1540 L530,1480 L590,1330 Z"/>
<path class="mf" d="M500,1540 L560,1520 L590,1570 L560,1640 L520,1620 Z"/><circle class="mf" cx="568" cy="1568" r="18"/>
<!-- G14 left wing plate -->
<path class="m" style="fill:#f0f0f0" d="M470,760 L340,1040 L328,1245 L310,1290 L330,1450 L380,1500 L470,1480 L590,1340 L660,1200 L650,1150 L520,1000 Z"/>
<!-- G14 lower plate -->
<path class="m" style="fill:#e4e4e4" d="M520,1000 L650,1150 L660,1200 L590,1340 L470,1480 L380,1500 L330,1450 L312,1290 L352,1250 Z"/>
<path class="t" d="M352,1250 L360,1440 L385,1480 M470,830 L380,1060 L352,1250 M500,900 L420,1080 L352,1250 M520,1000 L500,900"/>
<circle class="m" cx="572" cy="1126" r="36" style="fill:#e4e4e4"/><circle class="m" cx="576" cy="1128" r="24" style="fill:#fff"/>
<circle class="m" cx="418" cy="1400" r="50" style="fill:#e4e4e4"/><path class="t" d="M395,1445 Q370,1410 395,1365 Q430,1340 455,1365"/>
<!-- G14 upper blade -->
<path class="m" style="fill:#e6e6e6;stroke-width:2" d="M410,118 L435,105 Q475,130 495,185 L540,380 Q600,480 690,625 L697,780 L692,1050 L664,1185 L520,1000 L472,830 L470,760 L440,545 L433,545 Z"/>
<path class="t" d="M440,545 L480,830 M470,760 Q560,800 620,900 Q660,980 690,1050 M478,800 Q560,840 610,930 Q640,1000 662,1095 M520,940 Q540,900 560,880 M433,120 Q470,300 470,545 L480,760"/>
<path d="M540,545 L560,540 L690,760 L690,800 Z" fill="#888"/><path class="h" style="stroke:#ddd" d="M550,560 L565,555 M560,580 L578,575 M572,600 L590,596 M584,622 L602,617 M596,642 L614,638 M608,664 L627,659 M620,684 L640,680 M632,705 L652,700 M645,726 L664,722 M658,748 L676,744 M670,768 L688,765"/>
<path class="m" d="M697,640 L722,630 L722,700 M700,720 L712,735 L712,770"/>
<path class="t" d="M400,1490 L410,1580 L440,1560 L470,1480 M330,1240 L120,1330 M200,1270 L200,2300 M240,1250 L235,1420"/>
</g>
<!-- leader lines -->
<path d="M486.6,1495.6 L427,1534.5 M504.7,1669.6 L444,1698" stroke="#333" stroke-width="1.2" fill="none"/>
<g transform="translate(80,1850) scale(0.25862)">
<path d="M1124,150 L1292,150 L1205,690 L1140,655 L1100,610 Z" fill="#bdbdbd"/>
<path d="M1124,150 L1240,150 L1195,640 L1100,610 Z" fill="#b0b0b0"/>
<path class="m" style="stroke-width:2.2" d="M1124,150 L1100,610 L1140,655 L1205,690 L1292,150"/>
<path class="m" d="M1240,150 L1195,640 L1205,690 M1100,610 L1195,640"/>
</g>

<!-- 42_f151_g12_j2.svg -->
<g transform="translate(400,1440) scale(0.25862)">
<!-- J2 plates (behind) -->
<path class="of" d="M170,1482 L255,1532 L235,1732 L150,1692 Z"/>
<path class="of" d="M135,1732 L235,1777 Q225,1892 270,2032 L190,2092 Q140,2042 125,1932 Z"/>
<path class="of" d="M285,1547 L612,1747 Q590,1842 600,1967 L600,2072 L480,2085 L420,1995 L310,2045 Q240,1892 270,1737 Z"/>
<path class="m" d="M150,1712 L440,1822 L440,1842 L232,1768 M235,1777 Q230,1900 275,2030 M300,1560 L285,1735 Q262,1890 325,2035 M250,2060 L410,2000 M270,2032 L250,2060 L190,2092"/>
<path class="t" d="M290,1560 L280,1680 M485,1650 Q460,1760 440,1822 Q400,1930 420,1995 M545,1700 Q520,1800 500,1860 Q470,1960 480,2085"/>
<circle class="mf" cx="525" cy="1797" r="36"/><path class="m" d="M545,1775 Q520,1770 512,1795 Q512,1825 540,1828"/>
<path class="mf" d="M505,1945 Q510,1925 535,1925 L570,1945 L575,1975 L555,1985 L515,1975 Z"/><circle class="mf" cx="558" cy="1962" r="14"/>
<path class="m" d="M560,1985 L598,1965"/>
<!-- J2 arm -->
<path class="of" d="M420,1995 L480,2085 L580,2212 L600,2222 Q680,2272 690,2342 L700,2592 L740,2892 L770,2957 L800,2952 L850,2902 L910,2862 L935,2267 L600,2072 L520,2047 Z"/>
<path class="m" d="M480,2085 Q500,2070 545,2060 L600,2072 M875,2250 L865,2890 M905,2262 L890,2870 M740,2892 L735,2925 L760,2950"/>
<path class="t" d="M545,2060 Q590,2150 700,2250 Q760,2320 770,2400 L800,2950 M600,2222 L580,2212 M705,2440 L745,2890 M710,2440 L712,2600"/>
<!-- G12 -->
<path class="of" d="M805,872 Q815,866 822,878 L982,1400 L935,1478 L1180,1652 L1185,1792 L1045,1897 L820,1757 L628,1640 L825,1300 L810,1265 L598,1618 L490,1555 L742,1130 L740,965 Z"/>
<path class="m" d="M810,1265 L820,1275 L612,1628 M935,1478 L865,1610 M982,1400 L960,1340"/>
<path class="t" d="M960,1340 L825,1620 M790,1650 L780,1730 M830,1640 L815,1750 M920,1700 L915,1840 M1020,1530 L960,1650 M965,1675 Q985,1635 1010,1650 L1015,1680"/>
<path class="mf" d="M712,1612 L790,1642 Q795,1652 785,1656 L708,1626 Q702,1616 712,1612 Z M832,1660 L910,1688 Q915,1698 905,1702 L828,1674 Q822,1664 832,1660 Z M952,1706 L1030,1734 Q1035,1744 1025,1748 L948,1720 Q942,1710 952,1706 Z"/>
<path class="mf" d="M1095,1775 Q1100,1750 1130,1748 L1165,1760 L1180,1790 L1165,1815 L1125,1825 Z"/><circle class="mf" cx="1138" cy="1788" r="34"/>
<!-- dashed arrows -->
<line class="d" x1="485" y1="1505" x2="-120" y2="1240"/>
<line class="d" x1="685" y1="2617" x2="-180" y2="2250"/>
</g>
<polygon class="a" points="328.7,1747.1 361.6,1751.5 354.6,1755.2 339.5,1760.8"/>
<polygon class="a" points="321.4,2008.1 354.3,2012.5 347.3,2016.2 332.2,2021.8"/>

<!-- 50_f151_right_shield.svg -->
<g transform="translate(960,1310) scale(0.32020)" class="rs">
<path class="o" style="fill:#dcdcdc" d="M740,235 L800,400 L870,640 L990,740 L1020,800 L1030,850 L1080,790 L1130,745 L1145,790 L1150,640 L1240,450 L1225,320 L1210,40 L1235,30 L1280,100 L1320,260 L1390,380 L1410,375 L1440,620 L1435,880 L1400,1080 L1300,1290 L1250,1655 L1225,1845 L1180,1895 L1130,2085 L1070,2605 L1030,2880 L1010,2880 L1040,2645 L1000,2665 L955,2915 L935,2910 Q900,2455 840,2175 Q790,2055 735,1955 L730,1930 L745,1885 L740,1655 L720,1560 L690,1470 L590,1340 L530,1240 L470,1270 L430,1200 L415,1080 L425,985 L440,970 L455,780 L480,760 L640,560 L685,420 L685,300 Z"/>
<!-- left wing + G12 plate (R1b frame) -->
</g>
<g transform="translate(1080,1500) scale(0.19704)" class="rs">
<path class="o" d="M130,290 L160,300 L600,560 L900,745 M790,10 L800,80 Q700,300 620,480 Q560,620 520,720 Q480,860 490,930 Q520,1030 640,1075 L700,1100 M860,230 Q760,420 700,600 Q660,760 660,900 L690,1010 L650,1075"/>
<path class="o" d="M820,100 L1020,250 L1050,360 L1080,460 L1075,600 L1060,680 L1000,720 L900,745 L740,660 L600,560"/>
<path class="m" d="M100,610 L510,735 M80,640 L500,780 M130,290 L150,640 M150,1100 L250,1050 L430,970 L520,980 M760,220 L800,200 L1025,335 M820,300 Q790,450 790,660 M740,560 L745,600"/>
<path class="t" d="M640,120 L760,220 L740,270 M530,580 L600,570 M660,840 L850,790"/>
<path class="m" style="fill:#c4c4c4" d="M575.0,0.0 L320.0,385.0 L355.0,410.0 L610.0,12.0 Z"/><path class="h" d="M564.4,16.0 L599.4,28.6 M553.8,32.1 L588.8,45.2 M543.1,48.1 L578.1,61.8 M532.5,64.2 L567.5,78.3 M521.9,80.2 L556.9,94.9 M511.2,96.2 L546.2,111.5 M500.6,112.3 L535.6,128.1 M490.0,128.3 L525.0,144.7 M479.4,144.4 L514.4,161.2 M468.8,160.4 L503.8,177.8 M458.1,176.5 L493.1,194.4 M447.5,192.5 L482.5,211.0 M436.9,208.5 L471.9,227.6 M426.2,224.6 L461.2,244.2 M415.6,240.6 L450.6,260.8 M405.0,256.7 L440.0,277.3 M394.4,272.7 L429.4,293.9 M383.8,288.8 L418.8,310.5 M373.1,304.8 L408.1,327.1 M362.5,320.8 L397.5,343.7 M351.9,336.9 L386.9,360.2 M341.2,352.9 L376.2,376.8 M330.6,369.0 L365.6,393.4 "/>
<path class="m" style="fill:#c4c4c4" d="M230,380 Q195,700 255,1045 L300,1025 Q255,720 290,415 Z"/>
<path class="h" d="M228,410 L288,440 M224,440 L285,468 M221,470 L282,497 M219,500 L280,526 M217,530 L278,555 M215,560 L276,584 M214,590 L275,613 M213,620 L274,642 M213,650 L274,671 M213,680 L274,700 M214,710 L275,729 M215,740 L276,758 M217,770 L277,787 M219,800 L279,816 M221,830 L281,845 M224,860 L283,874 M227,890 L286,903 M231,920 L289,932 M235,950 L292,961 M240,980 L295,990 M245,1010 L298,1016"/>
<circle class="m" cx="830" cy="470" r="40"/><circle class="t" cx="833" cy="472" r="28"/>
<path class="mf" style="fill:#e2e2e2" d="M965,590 Q970,560 1005,555 Q1060,560 1065,610 Q1060,660 1010,662 Q970,655 965,590 Z"/><path class="m" d="M985,575 Q975,620 1000,655"/>
<circle class="m" cx="600" cy="708" r="45"/><circle class="t" cx="600" cy="708" r="30"/><circle class="t" cx="600" cy="708" r="14"/>
<path class="mf" style="fill:#e4e4e4" d="M850,770 L955,752 L970,825 L880,838 Z"/><path class="t" d="M850,770 L880,800 L960,780"/>
<path class="m" d="M915,840 L930,920 L880,970 M1015,755 L1015,825"/>
<path class="mf" style="fill:#cfcfcf" d="M565,905 Q572,875 605,875 L650,900 L660,935 L630,955 L575,935 Z"/><circle class="mf" cx="636" cy="922" r="22" style="fill:#e6e6e6"/><circle class="t" cx="638" cy="924" r="10"/>
<path class="mf" style="fill:#cfcfcf" d="M700,930 Q708,895 745,895 L800,925 L812,962 L785,982 L710,960 Z"/><circle class="mf" cx="788" cy="952" r="25" style="fill:#e6e6e6"/><circle class="t" cx="790" cy="954" r="12"/>
<path class="m" d="M800,975 L868,1048 M782,985 L852,1060"/><path class="mf" style="fill:#ddd" d="M800,1040 L850,1025 L870,1050 L860,1090 L810,1085 Z"/>
<path class="m" d="M890,1045 L1160,932 L1440,818 M890,1060 L1160,947 L1440,833"/>
<circle class="mf" cx="878" cy="1060" r="22" style="fill:#e6e6e6"/><circle class="mf" cx="1160" cy="940" r="20" style="fill:#e6e6e6"/><circle class="mf" cx="1440" cy="825" r="20" style="fill:#e6e6e6"/>
<path class="m" d="M1135,420 L1135,1230 M1160,420 L1160,1230 M1020,740 L1020,1230 M1270,560 L1270,1230 M1075,600 L1100,600 L1100,900 M1200,680 L1200,1000 L1230,1040"/>
<path class="mf" style="fill:#dcdcdc" d="M1085,600 L1170,615 L1200,650 L1180,680 L1100,660 Z"/><circle class="mf" cx="1178" cy="650" r="20" style="fill:#e6e6e6"/>
<path class="m" transform="translate(0,55)" d="M1070,290 L1220,215 L1225,400 L1085,480 Z M1100,400 L1200,355 L1200,430 L1105,470 Z M1110,410 L1190,420 M1135,300 L1135,420 M1085,330 L1135,350 L1210,250"/>
</g>
<g transform="translate(960,1310) scale(0.32020)" class="rs">
<path class="o" d="M720,1200 L770,1250 L1030,1390 L1075,1420 M470,1270 L530,1240 L640,1190 L720,1200"/>
<path class="m" style="fill:#b8b8b8" d="M565.0,1290.0 L740.0,1480.0 L775.0,1465.0 L600.0,1280.0 Z"/><path class="h" d="M574.7,1300.6 L609.7,1290.3 M584.4,1311.1 L619.4,1300.6 M594.2,1321.7 L629.2,1310.8 M603.9,1332.2 L638.9,1321.1 M613.6,1342.8 L648.6,1331.4 M623.3,1353.3 L658.3,1341.7 M633.1,1363.9 L668.1,1351.9 M642.8,1374.4 L677.8,1362.2 M652.5,1385.0 L687.5,1372.5 M662.2,1395.6 L697.2,1382.8 M671.9,1406.1 L706.9,1393.1 M681.7,1416.7 L716.7,1403.3 M691.4,1427.2 L726.4,1413.6 M701.1,1437.8 L736.1,1423.9 M710.8,1448.3 L745.8,1434.2 M720.6,1458.9 L755.6,1444.4 M730.3,1469.4 L765.3,1454.7 "/>
<path class="m" style="fill:#c4c4c4" d="M735.0,1515.0 L790.0,1900.0 L820.0,1895.0 L775.0,1505.0 Z"/><path class="h" d="M737.5,1532.5 L777.0,1522.7 M740.0,1550.0 L779.1,1540.5 M742.5,1567.5 L781.1,1558.2 M745.0,1585.0 L783.2,1575.9 M747.5,1602.5 L785.2,1593.6 M750.0,1620.0 L787.3,1611.4 M752.5,1637.5 L789.3,1629.1 M755.0,1655.0 L791.4,1646.8 M757.5,1672.5 L793.4,1664.5 M760.0,1690.0 L795.5,1682.3 M762.5,1707.5 L797.5,1700.0 M765.0,1725.0 L799.5,1717.7 M767.5,1742.5 L801.6,1735.5 M770.0,1760.0 L803.6,1753.2 M772.5,1777.5 L805.7,1770.9 M775.0,1795.0 L807.7,1788.6 M777.5,1812.5 L809.8,1806.4 M780.0,1830.0 L811.8,1824.1 M782.5,1847.5 L813.9,1841.8 M785.0,1865.0 L815.9,1859.5 M787.5,1882.5 L818.0,1877.3 "/>
<!-- lower body -->
<path class="o" d="M590,1340 L640,1300 L690,1320 Q760,1420 830,1500 L870,1470 Q900,1700 905,1950 M730,1930 L820,1975 L880,1985 M880,1985 L1000,1990 L1180,1895"/>
<path class="m" d="M870,1470 L920,1440 Q960,1700 985,1900 L940,1950 L905,1950 M1030,1390 Q1040,1700 1020,1900 L985,1930 M800,1390 L815,1420 L830,1400 M640,1300 Q700,1420 720,1560 M880,1985 Q960,2100 975,2300 Q1010,2500 1020,2650 M920,1985 L1000,2005 L1175,1935"/>
<path class="m" d="M1072,1350 L1072,1620 L1100,1650 L1100,1990 M1088,1350 L1088,1600 L1112,1630 L1112,1930 M1075,2010 L1060,2140 L1075,2150 L1090,2010 M1090,2100 L1050,2600 M1110,2050 L1075,2300"/>
<circle class="mf" cx="1085" cy="2060" r="30" style="fill:#ddd"/><circle class="m" cx="1098" cy="2060" r="20" style="fill:#e8e8e8"/>
<path class="mf" style="fill:#ddd" d="M1040,2350 L1060,2340 L1078,2360 L1070,2385 L1045,2380 Z"/>
<path class="m" d="M1165,1300 L1240,1330 L1235,1480 L1150,1780 L1140,1600 Z M1300,1290 L1240,1330 M1390,990 L1330,1010 L1300,1290 M1165,1300 L1250,1180 L1330,1010 M1150,1780 L1200,1840"/>
<path class="t" d="M1190,1320 L1180,1580 M1130,1560 L1125,1700 M1000,1420 L1000,1900"/>
<circle class="mf" cx="1312" cy="988" r="13" style="fill:#ddd"/><circle class="mf" cx="1398" cy="888" r="14" style="fill:#ddd"/><circle class="mf" cx="1128" cy="1692" r="13" style="fill:#ddd"/>
<!-- right wing -->
<path class="o" d="M1150,640 L1145,900 L1190,945 L1260,920 L1330,830 L1380,700 M1240,450 L1260,520 L1375,700 L1400,760 L1380,900 L1330,1010"/>
<path class="m" d="M1225,320 L1255,520 M1260,520 L1170,700 L1150,900 M1280,600 L1200,760 L1190,945 M1410,375 L1400,760 M1425,560 L1420,800 L1390,990 M1260,520 Q1330,560 1390,700 M1255,470 Q1340,520 1400,640 M1235,30 Q1270,200 1262,330 L1270,460"/>
<path d="M1290,322 L1305,318 L1395,470 L1392,500 Z" fill="#777"/>
<ellipse class="m" cx="1312" cy="705" rx="24" ry="30" transform="rotate(20 1312 705)"/><ellipse class="t" cx="1316" cy="707" rx="15" ry="20" transform="rotate(20 1316 707)"/>
<circle class="m" cx="1212" cy="872" r="35" style="fill:#dcdcdc"/><path class="t" d="M1195,900 Q1180,870 1200,845"/>
<circle class="m" cx="1380" cy="772" r="15"/><circle class="t" cx="1380" cy="772" r="8"/>
<path class="m" d="M1200,960 L1210,1080 L1260,1095 M1260,1000 L1310,990 M1330,830 L1340,1000"/>
</g>

<!-- 51_f151_right_parts.svg -->
<g transform="translate(960,1840) scale(0.32020)">
<!-- G13 -->
<path class="of" d="M120,75 L295,18 L300,30 L335,100 L322,106 L440,320 L440,190 L490,140 L515,140 L585,180 L585,245 Q568,262 582,282 L640,260 L650,570 L640,590 Q598,580 600,612 L650,630 L650,690 L560,800 L520,820 L410,765 L410,740 L370,715 L320,330 L120,95 Z"/>
<path class="m" d="M120,95 L300,30 M170,135 L322,106 M235,130 L410,350 L470,760 M265,122 L430,320 L405,348 M405,350 L440,330 M440,190 L458,202 L512,320 L562,795 M458,202 L500,150 M410,740 L520,795 L560,800 M410,765 L410,740"/>
<path class="t" d="M300,30 Q230,60 125,82"/>
<!-- G9 -->
</g>
<g transform="translate(1300,1900) scale(0.22167)">
<path class="of" d="M400,450 L720,590 L755,630 L1030,520 L1065,480 L1110,300 L1130,150 L1155,130 Q1175,230 1165,330 Q1140,450 1115,500 Q1060,650 1030,800 Q990,1200 940,1600 L860,2110 L835,2110 L830,2080 L915,1590 L870,1600 L850,1640 L720,2135 Q710,2142 700,2120 L620,1700 Q580,1400 580,1050 Q570,900 520,780 Q430,620 410,540 Z"/>
<path class="t" d="M505,500 Q520,600 620,760 L650,870 L610,885 L620,1000 L690,1640 L740,2070 L770,1950 M545,520 Q560,600 640,700 L690,850 L655,865 M675,1650 L715,1640 M690,1780 L725,1765 M1130,180 Q1150,260 1140,340 Q1120,440 1090,500 L1040,530 M760,640 L1040,530 M760,640 Q820,700 860,850 L940,1140 L990,1050 M860,850 Q850,1100 875,1380 L920,1390 L960,1280 L1000,1040 M780,660 Q830,720 850,830 M895,1590 L845,2095"/>
<ellipse class="m" cx="960" cy="695" rx="52" ry="40" transform="rotate(-25 960 695)"/><ellipse class="t" cx="962" cy="698" rx="36" ry="26" transform="rotate(-25 962 698)"/>
<path class="m" d="M755,630 L720,590"/>
<!-- arrow 2 -->
<line class="d" x1="365" y1="455" x2="185" y2="378"/><polygon class="a" points="85,335 188,348 150,408"/>
<!-- diamond 2 -->
<polygon points="362,163 467,268 362,373 257,268" fill="#3a3a3a"/>
</g>
<text x="1380.2" y="1970" font-size="30" font-weight="bold" fill="#fff" text-anchor="middle" transform="translate(1380.2,0) scale(1.25,1) translate(-1380.2,0)">2</text>
<!-- diamond 1 -->
<polygon points="1151.5,1831.5 1174.5,1854.5 1151.5,1877.5 1128.5,1854.5" fill="#3a3a3a"/>
<text x="1151.5" y="1865" font-size="30" font-weight="bold" fill="#fff" text-anchor="middle">1</text>
<!-- dashed arrows 1 -->
<g transform="translate(960,1840) scale(0.32020)">
<line class="d" x1="590" y1="250" x2="818" y2="-115"/><polygon class="a" points="862,-195 800,-130 862,-97"/>
<line class="d" x1="612" y1="600" x2="845" y2="222"/><polygon class="a" points="892,148 822,200 882,242"/>
<!-- icon -->
<rect x="218" y="928" width="160" height="157" fill="#3a3a3a"/>
<rect x="300" y="936" width="70" height="141" fill="#fff"/>
<polygon points="228,1006 290,950 290,985 300,985 300,1028 290,1028 290,1062" fill="#fff"/>
<polygon points="366,1006 312,950 312,985 300,985 300,1028 312,1028 312,1062" fill="#3a3a3a"/>
<rect x="282" y="936" width="18" height="24" fill="#3a3a3a"/><rect x="300" y="960" width="14" height="24" fill="#3a3a3a"/><rect x="300" y="1030" width="14" height="24" fill="#3a3a3a"/>
<circle cx="404" cy="990" r="6" fill="#4d4d4d"/><circle cx="404" cy="1026" r="6" fill="#4d4d4d"/>
</g>
<text x="991" y="2211" style="font-family:'Liberation Sans','Noto Sans CJK JP',sans-serif" font-weight="bold" font-size="18.5" fill="#454545" text-anchor="start" textLength="205" lengthAdjust="spacing">（反対側に取り付ける）</text>

<!-- 90_labels.svg -->
<text transform="translate(138.5,234.4) scale(1.0,1)" font-size="41.7" fill="#4d4d4d" stroke="#4d4d4d" stroke-width="0.7" stroke-linejoin="round">S</text><circle cx="187.1" cy="220.1" r="15.8" fill="#4d4d4d"/><text x="187.1" y="231.3" font-size="32.1" font-weight="bold" fill="#fff" text-anchor="middle">5</text>
<text transform="translate(368.9,314.8) scale(1.0,1)" font-size="41.7" fill="#4d4d4d" stroke="#4d4d4d" stroke-width="0.7" stroke-linejoin="round">S</text><circle cx="417.5" cy="300.5" r="15.8" fill="#4d4d4d"/><text x="417.5" y="311.7" font-size="32.1" font-weight="bold" fill="#fff" text-anchor="middle">6</text><rect x="407.1" y="319.5" width="20.9" height="1.8" fill="#4d4d4d"/>
<text transform="translate(98.7,505.3) scale(1.0,1)" font-size="41.7" fill="#4d4d4d" stroke="#4d4d4d" stroke-width="0.7" stroke-linejoin="round">S</text><circle cx="147.3" cy="491.0" r="15.8" fill="#4d4d4d"/><text x="147.3" y="502.2" font-size="32.1" font-weight="bold" fill="#fff" text-anchor="middle">9</text><rect x="136.9" y="510.0" width="20.9" height="1.8" fill="#4d4d4d"/>
<text transform="translate(1326.7,492.3) scale(1.0,1)" font-size="41.7" fill="#4d4d4d" stroke="#4d4d4d" stroke-width="0.7" stroke-linejoin="round">S</text><circle cx="1375.3" cy="478.0" r="15.8" fill="#4d4d4d"/><text transform="translate(1375.0,489.2) scale(0.68,1)" font-size="33.4" font-weight="bold" fill="#fff" text-anchor="middle" letter-spacing="-2.5">12</text>
<text transform="translate(229.7,792.6) scale(1.0,1)" font-size="39.5" fill="#4d4d4d" stroke="#4d4d4d" stroke-width="0.7" stroke-linejoin="round">S</text><circle cx="276.7" cy="779.0" r="15.5" fill="#4d4d4d"/><text x="276.7" y="790.0" font-size="31.5" font-weight="bold" fill="#fff" text-anchor="middle">2</text>
<text transform="translate(94.1,986.6) scale(1.0,1)" font-size="41.0" fill="#4d4d4d" stroke="#4d4d4d" stroke-width="0.7" stroke-linejoin="round">S</text><circle cx="142.0" cy="972.5" r="15.5" fill="#4d4d4d"/><text transform="translate(141.7,983.5) scale(0.68,1)" font-size="32.7" font-weight="bold" fill="#fff" text-anchor="middle" letter-spacing="-2.5">11</text>
<text transform="translate(396.2,1103.1) scale(1.0,1)" font-size="39.5" fill="#4d4d4d" stroke="#4d4d4d" stroke-width="0.7" stroke-linejoin="round">S</text><circle cx="443.2" cy="1089.5" r="15.5" fill="#4d4d4d"/><text transform="translate(442.9,1100.5) scale(0.68,1)" font-size="32.7" font-weight="bold" fill="#fff" text-anchor="middle" letter-spacing="-2.5">10</text>
<text transform="translate(596.3,1050.6) scale(1.0,1)" font-size="38.1" fill="#4d4d4d" stroke="#4d4d4d" stroke-width="0.7" stroke-linejoin="round">S</text><circle cx="642.4" cy="1037.5" r="15.5" fill="#4d4d4d"/><text x="642.4" y="1048.5" font-size="31.5" font-weight="bold" fill="#fff" text-anchor="middle">8</text>
<text transform="translate(705.3,1246.1) scale(1.0,1)" font-size="38.1" fill="#4d4d4d" stroke="#4d4d4d" stroke-width="0.7" stroke-linejoin="round">S</text><circle cx="751.4" cy="1233.0" r="15.5" fill="#4d4d4d"/><text x="751.4" y="1244.0" font-size="31.5" font-weight="bold" fill="#fff" text-anchor="middle">3</text>
<text transform="translate(191.9,1578.1) scale(1.0,1)" font-size="38.1" fill="#4d4d4d" stroke="#4d4d4d" stroke-width="1.5" stroke-linejoin="round">C</text><circle cx="240.9" cy="1565.0" r="16.0" fill="#4d4d4d"/><text x="240.9" y="1576.3" font-size="32.5" font-weight="bold" fill="#fff" text-anchor="middle">1</text>
<text transform="translate(493.8,1503.6) scale(1.0,1)" font-size="38.1" fill="#4d4d4d" stroke="#4d4d4d" stroke-width="1.5" stroke-linejoin="round">G</text><circle cx="543.0" cy="1490.5" r="15.5" fill="#4d4d4d"/><text transform="translate(542.7,1501.5) scale(0.68,1)" font-size="32.7" font-weight="bold" fill="#fff" text-anchor="middle" letter-spacing="-2.5">14</text>
<text transform="translate(513.4,1682.1) scale(1.0,1)" font-size="38.1" fill="#4d4d4d" stroke="#4d4d4d" stroke-width="1.5" stroke-linejoin="round">J</text><circle cx="552.0" cy="1669.0" r="15.5" fill="#4d4d4d"/><text x="552.0" y="1680.0" font-size="31.5" font-weight="bold" fill="#fff" text-anchor="middle">1</text>
<text transform="translate(655.9,1771.1) scale(1.0,1)" font-size="38.1" fill="#4d4d4d" stroke="#4d4d4d" stroke-width="1.5" stroke-linejoin="round">G</text><circle cx="705.1" cy="1758.0" r="15.5" fill="#4d4d4d"/><text transform="translate(704.8,1769.0) scale(0.68,1)" font-size="32.7" font-weight="bold" fill="#fff" text-anchor="middle" letter-spacing="-2.5">12</text>
<text transform="translate(651.4,2115.6) scale(1.0,1)" font-size="38.1" fill="#4d4d4d" stroke="#4d4d4d" stroke-width="1.5" stroke-linejoin="round">J</text><circle cx="690.0" cy="2102.5" r="15.5" fill="#4d4d4d"/><text x="690.0" y="2113.5" font-size="31.5" font-weight="bold" fill="#fff" text-anchor="middle">2</text>
<text transform="translate(1022.1,2129.1) scale(1.0,1)" font-size="38.1" fill="#4d4d4d" stroke="#4d4d4d" stroke-width="1.5" stroke-linejoin="round">G</text><circle cx="1071.3" cy="2116.0" r="15.5" fill="#4d4d4d"/><text transform="translate(1071.0,2127.0) scale(0.68,1)" font-size="32.7" font-weight="bold" fill="#fff" text-anchor="middle" letter-spacing="-2.5">13</text>
<text transform="translate(1100.6,2176.6) scale(1.0,1)" font-size="38.1" fill="#4d4d4d" stroke="#4d4d4d" stroke-width="1.5" stroke-linejoin="round">G</text><circle cx="1149.8" cy="2163.5" r="15.5" fill="#4d4d4d"/><text transform="translate(1149.5,2174.5) scale(0.68,1)" font-size="32.7" font-weight="bold" fill="#fff" text-anchor="middle" letter-spacing="-2.5">15</text>
<text transform="translate(1543.1,2150.1) scale(1.0,1)" font-size="38.1" fill="#4d4d4d" stroke="#4d4d4d" stroke-width="1.5" stroke-linejoin="round">G</text><circle cx="1592.3" cy="2137.0" r="15.5" fill="#4d4d4d"/><text x="1592.3" y="2148.0" font-size="31.5" font-weight="bold" fill="#fff" text-anchor="middle">9</text><rect x="1582.1" y="2155.7" width="20.5" height="1.8" fill="#4d4d4d"/>

</svg></body></html>
